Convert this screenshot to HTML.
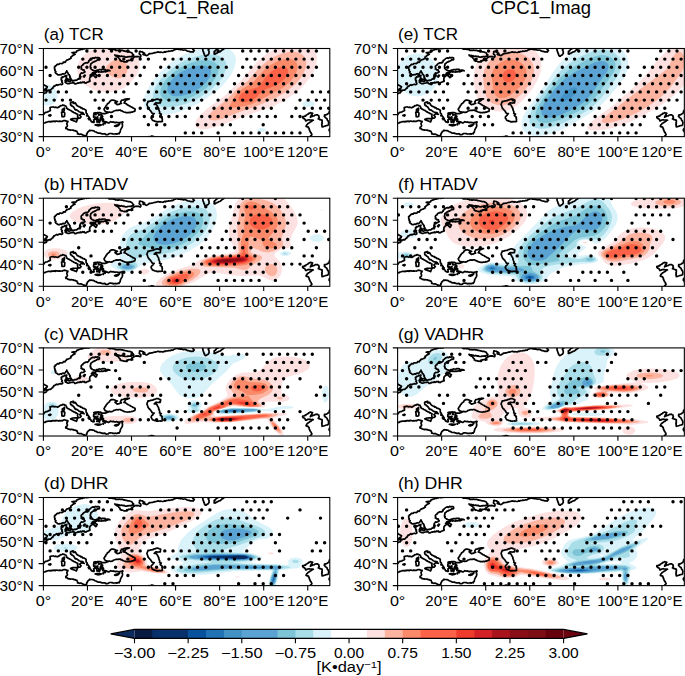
<!DOCTYPE html><html><head><meta charset="utf-8"><style>html,body{margin:0;padding:0;background:#fff;overflow:hidden}svg{display:block}text{font-family:"Liberation Sans",sans-serif;fill:#000}</style></head><body>
<svg width="685" height="676" viewBox="0 0 685 676">
<rect width="685" height="676" fill="#fff"/>
<defs>
<clipPath id="pc"><rect x="0" y="0" width="286.39" height="88.12"/></clipPath>
<g id="coast"><path d="M0.0,45.2L0.7,45.0L1.3,44.5L2.3,44.5L3.1,43.8L3.2,43.0L3.5,42.3L4.3,42.5L4.8,41.8L5.5,41.6L6.3,41.5L7.1,41.6L7.7,41.0L8.3,40.4L8.8,39.9L9.6,39.6L9.6,38.8L10.3,38.5L10.4,37.7L11.4,37.6L12.1,36.8L12.8,36.7L13.4,36.2L14.2,36.8L14.8,36.5L15.4,36.1L16.1,36.0L16.9,35.7L17.6,36.1L18.3,36.1L19.2,35.5L19.2,34.8L18.9,34.1L18.3,33.5L18.9,32.6L18.3,31.9L17.8,31.2L18.2,30.3L17.8,29.5L18.6,29.2L18.9,28.4L19.8,28.6L20.5,28.2L21.1,27.5L22.0,27.8L22.6,27.2L23.4,27.1L22.9,28.2L22.9,29.0L22.7,29.7L23.3,30.1L24.0,30.2L23.4,30.7L22.4,30.9L22.0,31.7L22.3,32.7L23.1,33.0L22.3,33.2L21.8,33.9L22.5,34.4L23.4,34.7L24.2,35.2L25.1,35.2L25.9,35.1L26.7,34.8L27.4,34.6L28.2,34.5L29.0,34.5L29.7,34.1L30.5,34.4L31.0,34.9L31.5,35.5L32.3,35.5L33.0,35.0L33.7,34.9L34.4,34.4L35.2,34.6L35.9,34.2L36.7,34.5L37.2,33.7L38.1,34.4L38.7,34.0L39.3,33.5L40.1,34.0L40.8,33.5L41.0,34.4L41.7,34.3L42.5,34.7L43.2,34.1L43.8,33.8L44.4,33.5L45.1,33.4L45.7,32.9L46.5,33.0L46.6,32.3L46.1,31.6L46.3,30.8L46.3,29.7L46.6,29.0L47.1,28.4L47.6,27.8L48.3,27.5L48.9,26.9L49.8,26.9L50.6,27.0L50.8,27.8L51.4,28.1L51.8,28.6L52.4,29.1L53.1,28.6L53.2,27.7L53.8,26.9L53.1,26.5L52.3,26.2L52.0,25.3L51.6,24.6L51.8,23.8L52.5,23.8L53.1,23.6L53.7,23.1L54.4,23.1L55.1,23.6L55.7,23.2L56.4,23.5L57.1,23.5L57.7,23.6L58.4,22.9L59.0,23.5L59.7,23.4L60.4,23.2L61.0,22.8L61.7,23.1L62.4,23.4L63.1,22.9L63.8,22.7L64.4,22.3L65.1,22.2L65.8,22.0L66.5,22.3L65.9,21.9L65.2,21.8L64.6,21.6L63.9,21.6L63.1,21.8L62.4,21.8L61.7,20.9L61.0,20.8L60.3,20.8L59.5,20.9L58.7,20.8L58.0,21.1L57.3,21.3L56.5,21.1L55.7,21.0L55.1,21.6L54.3,21.6L53.6,21.7L52.9,22.0L52.2,22.5L51.4,22.3L50.7,22.3L49.9,21.9L49.1,21.6L48.5,21.1L47.7,20.6L47.1,19.8L47.6,19.2L46.8,18.5L47.0,17.8L47.0,17.2L47.4,16.5L47.2,15.8L47.6,15.2L48.3,14.8L49.0,14.2L49.6,13.7L50.4,13.6L50.8,12.9L51.7,13.0L52.3,12.6L52.9,12.2L53.5,11.9L54.0,11.2L54.7,11.3L55.3,11.5L56.0,11.0L56.0,9.7L55.4,9.1L54.7,9.1L54.0,9.0L53.3,9.3L52.6,9.2L51.8,8.9L51.1,9.8L50.4,9.7L49.6,9.3L48.9,9.7L48.1,10.0L47.5,10.6L46.8,11.1L46.3,11.7L45.5,12.1L45.5,13.2L44.7,13.7L44.2,14.4L43.3,14.2L42.6,14.4L41.8,14.3L41.2,15.0L40.4,15.1L40.0,15.7L39.5,16.0L39.3,16.8L38.6,17.0L38.0,17.6L37.7,18.3L37.9,19.2L38.2,19.9L37.7,20.5L38.5,20.7L39.1,21.4L40.0,21.3L40.8,21.6L40.8,22.7L41.6,23.4L40.9,23.6L40.4,24.3L39.7,24.5L38.9,24.6L38.1,24.4L37.5,24.9L37.1,25.5L36.6,26.1L36.9,27.0L36.3,27.5L36.3,28.2L36.5,28.9L36.1,29.5L35.5,30.0L35.0,30.6L34.2,30.6L33.7,31.4L33.1,31.7L32.3,31.8L31.5,31.7L30.8,32.1L30.0,32.2L29.2,32.3L28.4,32.2L28.4,31.4L27.8,30.8L27.5,30.2L27.1,29.3L26.4,28.6L26.7,27.7L26.0,27.1L25.9,26.3L25.3,25.9L24.7,25.6L24.7,24.7L24.2,24.0L23.6,23.2L23.4,22.3L23.4,23.1L22.6,23.5L22.3,24.2L21.8,24.9L21.3,25.2L20.6,25.5L19.8,25.2L19.1,25.4L18.5,25.7L18.1,26.2L17.4,26.0L16.7,26.0L16.1,26.5L15.4,26.4L14.6,26.4L14.0,26.0L13.6,25.4L12.9,25.2L12.3,24.7L11.9,24.0L12.5,23.2L11.8,22.6L11.4,21.9L11.7,21.1L11.2,20.6L11.1,19.9L11.2,19.2L11.0,18.5L11.8,18.2L11.9,17.3L12.8,17.1L13.2,16.5L13.8,16.0L14.3,15.7L15.1,16.0L15.8,15.7L16.2,15.0L16.9,15.0L17.6,15.0L18.4,15.1L19.0,14.9L19.6,14.6L20.0,13.7L20.7,13.6L21.5,14.0L22.0,13.4L22.3,12.6L23.1,12.1L23.5,11.3L24.3,11.3L25.1,11.1L25.6,10.6L26.4,10.6L26.9,9.9L27.7,9.7L27.4,8.5L28.1,8.2L28.6,7.7L29.2,7.3L29.7,6.6L30.5,6.7L30.9,6.0L31.7,5.9L30.9,5.9L30.6,5.0L30.0,4.7L29.4,4.4L28.6,4.2L29.4,4.3L30.1,3.9L30.9,4.1L31.6,3.8L32.4,4.0L33.0,3.5L33.3,2.6L34.1,2.2L35.0,2.0L35.7,1.5L36.4,1.4L37.1,1.1L37.7,0.7L38.6,0.9L39.2,0.8L39.8,0.1L40.5,0.4L41.2,0.1L41.9,0.0L42.6,-0.1L43.4,0.2L44.1,-0.3L44.8,-0.1L45.6,-0.1L46.3,-0.7M63.9,-0.7L64.7,-0.4L65.2,0.4L66.1,0.7L66.8,0.7L67.4,0.5L68.1,0.6L68.7,0.8L69.4,0.7L70.1,0.9L70.8,1.1L71.6,1.1L72.1,1.8L72.9,1.8L73.6,1.7L74.3,1.9L75.0,1.9L75.7,1.6L76.4,1.8L77.1,1.8L77.8,1.9L78.6,1.9L79.4,1.9L80.0,2.4L80.8,2.4L81.5,2.6L82.2,2.8L82.9,2.9L83.6,3.0L84.2,3.3L84.9,3.4L85.6,3.5L86.4,3.4L87.0,3.7L87.7,4.0L88.4,4.3L88.9,4.8L89.2,5.7L89.8,6.1L90.3,6.6L89.9,7.2L89.4,7.6L88.5,7.6L88.1,8.2L87.4,8.0L86.6,8.3L85.9,8.1L85.2,8.3L84.4,8.2L83.7,8.6L83.0,8.6L82.2,8.6L81.5,8.5L80.8,7.9L80.0,8.2L79.3,7.9L78.6,7.9L78.0,7.5L77.3,7.9L76.6,7.9L76.0,7.5L75.4,7.2L74.6,7.5L74.0,7.0L73.4,6.9L72.6,7.0L72.0,6.8L71.4,6.4L71.8,7.1L72.5,7.5L73.1,7.9L74.0,8.4L74.9,8.8L75.3,9.4L75.6,10.0L76.1,10.5L76.7,11.0L76.7,12.1L77.4,12.1L77.9,12.8L78.7,12.6L79.3,12.8L80.0,13.0L80.7,13.4L81.5,13.2L82.2,13.4L83.0,13.3L83.7,13.4L83.3,12.3L83.9,12.2L84.6,12.4L85.2,11.7L85.9,11.9L86.6,11.7L87.2,11.6L87.9,12.2L88.6,12.1L89.2,11.9L88.9,11.0L88.1,10.6L88.6,10.0L89.3,9.8L89.9,9.4L90.3,8.8L91.0,8.7L91.6,8.2L92.3,8.1L93.0,8.3L93.6,7.9L94.2,8.3L95.0,8.0L95.6,8.4L96.3,8.5L96.9,8.8L97.4,8.0L97.4,7.0L97.1,6.3L96.3,6.0L95.8,5.3L96.0,4.6L96.3,3.8L96.1,3.1L96.8,2.9L97.5,3.1L98.3,3.3L99.0,3.4L99.4,4.2L100.2,4.0L100.6,4.8L101.3,4.8L100.9,5.4L100.1,5.6L99.6,5.9L100.2,6.2L100.9,6.3L101.6,6.2L102.2,6.8L102.8,7.1L103.5,7.0L104.1,6.5L104.8,6.2L105.4,5.8L105.7,5.1L106.5,5.2L107.2,5.2L108.0,5.0L108.7,4.9L109.4,4.8L110.1,4.6L110.8,4.2L111.7,4.3L112.4,4.0L113.1,3.9L113.9,3.6L114.6,3.3L115.2,3.7L116.0,3.7L116.7,4.0L117.5,3.6L118.2,3.8L119.0,4.0L119.7,4.0L120.4,3.7L121.1,3.2L122.0,3.6L122.6,3.0L123.4,3.1L124.1,3.0L124.7,2.9L125.4,2.6L126.1,2.8L126.8,2.7L127.5,2.5L128.1,2.2L128.9,2.4L129.6,2.2L130.1,1.6L130.8,1.4L131.5,1.1L132.2,0.9L133.3,0.4L133.9,0.6L134.6,0.7L135.2,1.0L135.9,1.0L136.6,0.9L137.3,1.3L138.1,0.9L138.8,1.4L139.5,1.5L140.2,1.7L141.0,1.5L141.7,1.5L142.4,1.7L143.1,2.0L143.7,2.5L144.4,2.7L145.1,2.8L145.8,2.9L146.5,3.1L147.1,3.4L147.8,3.3L148.5,3.5L149.2,3.1L149.8,3.5L150.1,2.7L150.9,2.2L150.4,1.6L150.2,1.0L149.3,0.7L149.2,-0.2L148.7,-0.7M159.7,-0.7L159.6,0.0L159.3,0.7L159.5,1.5L159.5,2.2L159.8,2.9L160.1,3.7L160.4,4.4L160.5,5.2L161.0,5.7L161.0,6.5L161.5,7.1L161.9,7.7L162.8,7.6L163.4,7.0L164.1,6.6L164.9,6.3L165.2,5.5L165.7,4.8L165.6,4.1L165.7,3.3L165.5,2.5L165.0,1.9L164.8,1.1L165.4,0.6L166.0,0.1L166.7,-0.3L167.4,-0.7M175.1,-0.7L174.7,-0.1L174.2,0.4L173.4,0.6L172.9,1.1L172.3,1.6L172.1,2.4L171.1,2.6L170.7,3.3L170.9,4.0L170.8,4.8L170.7,5.5L171.6,5.6L172.3,4.9L173.2,4.8L173.7,4.3L174.4,4.2L174.9,3.8L175.5,3.4L176.2,3.3L176.9,3.1L177.3,2.6L177.9,2.2L178.3,1.7L178.9,1.3L179.5,1.1L180.0,0.5L180.6,0.2L181.0,-0.4L181.7,-0.7M0.0,66.3L0.5,65.6L1.1,65.0L1.4,64.4L2.0,63.9L2.8,63.8L3.5,63.7L4.2,63.5L4.8,63.0L5.6,62.7L6.4,62.5L7.0,61.9L6.7,61.3L6.8,60.6L6.7,59.8L6.6,59.0L7.3,58.8L7.9,58.7L8.6,58.5L9.3,58.5L9.9,58.4L10.7,58.9L11.7,58.8L12.4,58.7L13.0,58.9L13.7,59.1L14.3,59.3L14.9,58.9L15.4,58.4L16.1,58.3L16.5,57.7L17.2,57.2L18.0,57.2L18.8,57.0L19.4,56.4L20.1,56.8L21.0,56.8L21.6,57.4L22.5,57.5L22.8,58.2L23.2,58.9L23.1,59.7L23.8,60.1L24.4,60.6L25.1,60.9L25.8,61.2L26.4,61.7L27.2,61.9L27.8,62.3L28.5,62.7L28.9,63.3L29.7,63.4L30.5,64.1L31.5,64.3L32.1,64.9L33.0,65.0L33.6,65.6L34.4,65.9L34.4,66.6L34.1,67.3L34.2,68.0L34.4,68.7L34.7,69.4L34.6,70.1L35.2,69.8L35.9,69.6L36.6,69.6L37.2,69.0L37.7,68.3L37.2,67.8L36.8,67.2L36.3,66.8L36.9,66.2L37.6,65.7L37.9,65.0L38.7,65.0L39.3,65.6L40.1,65.3L40.8,65.9L40.0,65.4L39.7,64.5L39.0,64.0L38.0,63.9L37.2,63.7L36.4,63.5L35.6,63.2L35.0,62.6L34.3,62.2L33.7,61.7L33.0,61.3L32.1,61.4L31.5,60.8L31.3,60.1L30.7,59.6L30.5,58.9L30.0,58.4L29.4,58.0L28.6,57.7L28.4,56.9L27.5,56.8L27.1,56.2L27.2,55.5L27.0,54.8L27.3,54.2L28.0,53.9L28.8,54.0L29.4,53.4L30.2,53.5L30.1,54.2L30.0,54.9L30.7,55.0L31.4,54.9L31.9,54.4L32.3,55.0L32.7,55.6L33.0,56.3L33.5,56.8L34.0,57.4L34.8,57.7L35.4,58.1L36.1,58.4L36.9,58.5L37.2,59.3L38.1,59.2L38.7,59.5L39.1,60.3L39.9,60.4L40.7,60.5L41.4,61.0L42.1,61.3L42.7,61.9L42.6,62.6L42.7,63.4L42.7,64.1L43.0,64.9L43.8,65.4L43.8,66.3L44.3,66.8L44.6,67.5L45.1,68.0L45.6,68.5L45.9,69.3L46.5,69.8L46.5,70.7L46.8,71.4L47.5,71.9L47.6,72.7L48.2,73.3L49.1,73.3L49.6,74.0L50.7,73.8L50.7,73.0L50.5,72.2L50.2,71.4L51.0,71.0L51.8,70.7L52.5,70.6L53.1,70.1L52.2,69.5L51.3,69.2L50.5,68.6L50.2,67.6L50.2,66.8L50.7,66.1L51.7,65.9L52.7,66.1L51.9,65.7L51.0,65.4L50.4,64.8L51.1,64.4L51.8,64.5L52.4,64.2L53.2,64.5L53.8,64.1L54.5,64.0L55.2,64.2L55.9,64.1L56.6,64.2L57.3,64.3L57.9,64.9L58.6,65.2L57.7,66.1L58.2,67.0L59.0,67.4L59.3,68.1L58.8,68.9L59.0,69.6L59.6,70.3L60.1,70.9L60.0,71.8L60.1,72.7L60.8,73.0L61.5,73.0L62.1,73.4L62.9,73.3L63.4,74.0L64.1,73.9L64.7,74.4L65.4,74.5L66.0,74.0L66.6,73.6L67.2,73.1L67.8,73.5L68.5,73.6L69.1,73.7L69.9,73.4L70.5,73.8L71.2,73.9L71.9,74.1L72.7,73.8L73.5,73.8L74.2,74.2L74.9,74.2L75.6,74.3L76.3,74.1L76.9,74.1L77.6,73.8L78.3,73.8L78.9,73.4L79.5,73.6L79.0,74.2L78.9,74.9L78.8,75.7L79.1,76.4L79.1,77.1L79.0,78.0L78.7,78.8L78.2,79.5L77.8,80.2L77.4,80.8L77.1,81.5L77.0,82.2L76.7,83.0L76.7,83.7L76.0,84.4L75.6,85.3L74.8,85.0L74.1,85.2L73.4,85.7L72.6,85.2L71.9,85.4L71.2,85.5L70.4,85.5L69.7,85.6L69.0,85.1L68.3,85.1L67.6,85.0L66.8,85.0L66.1,85.0L65.3,85.4L64.8,86.0L63.9,86.1L63.1,86.2L62.4,86.1L61.7,85.4L61.0,85.2L60.2,85.5L59.5,85.3L58.7,85.4L58.0,85.0L57.3,85.0L56.6,84.5L55.8,84.6L55.1,84.6L54.2,84.5L53.5,84.1L52.9,83.5L52.2,83.5L51.5,83.3L51.0,82.7L50.4,82.4L49.8,82.2L49.1,82.2L48.5,82.0L47.7,82.0L47.0,82.1L46.3,81.7L45.9,82.3L45.3,82.7L44.9,83.2L44.3,83.5L44.0,84.2L43.8,84.9L43.2,85.5L43.4,86.4L43.0,87.0L41.9,87.5L41.3,87.0L40.4,87.2L39.8,86.8L39.3,86.3L38.6,86.1L37.9,85.7L37.1,85.7L36.3,85.8L35.6,85.7L34.9,85.2L34.1,85.3L34.2,84.4L33.7,83.6L33.5,82.8L32.7,82.7L32.0,82.4L31.3,82.1L30.5,82.2L29.9,81.6L29.1,81.7L28.4,81.5L27.8,81.5L27.1,81.7L26.4,81.4L25.7,81.5L25.1,81.1L24.5,81.1L24.0,80.5L23.4,80.2L22.6,80.2L22.3,79.5L22.6,78.8L23.2,78.4L23.8,77.9L24.0,77.1L23.7,76.2L23.4,75.3L23.5,74.7L24.0,74.2L24.3,73.6L24.5,72.9L23.8,72.8L23.0,72.7L22.5,72.3L21.6,72.1L20.7,72.0L19.8,72.3L18.9,72.9L18.2,72.8L17.5,72.8L16.8,73.0L16.1,72.6L15.4,73.0L14.6,72.9L13.9,72.7L13.2,72.7L12.5,72.5L11.9,73.1L11.2,72.7L10.6,73.1L9.9,72.7L9.2,72.8L8.6,73.2L7.9,72.9L7.3,73.4L6.6,73.1L5.9,73.2L5.1,73.2L4.4,73.3L3.7,73.5L3.0,73.8L2.2,73.8L1.6,74.5L0.6,74.5L0.0,75.1M63.9,63.7L64.5,64.3L61.7,65.2L59.5,65.2L58.6,65.2M63.9,63.7L64.6,63.7L65.4,63.8L66.1,63.5L66.8,63.8L67.6,63.9L68.3,63.7L69.0,63.6L69.6,63.2L70.1,62.7L70.7,62.5L71.4,62.3L72.0,62.0L72.7,61.9L73.4,61.7L74.2,61.9L74.9,61.9L75.6,61.6L76.4,61.6L77.1,61.7L77.7,62.3L78.6,62.4L79.2,62.9L80.0,63.2L80.7,63.5L81.4,63.7L82.2,63.9L82.9,64.1L83.7,64.1L84.5,64.2L85.2,64.1L85.9,63.8L86.7,64.1L87.5,63.9L88.1,63.5L88.8,63.6L89.5,63.4L90.1,63.0L90.7,62.8L91.4,62.8L91.5,62.0L91.8,61.2L91.6,60.4L90.9,60.0L90.3,59.6L89.4,59.5L88.9,58.8L88.1,58.6L87.5,58.2L86.8,58.0L86.4,57.3L85.6,57.1L84.9,56.9L84.4,56.4L83.6,56.1L83.0,55.3L82.2,55.1L81.5,54.6L80.6,54.4L81.2,54.0L81.3,53.2L81.9,52.8L82.1,52.1L82.6,51.6L83.2,51.2L84.0,51.2L84.6,51.0L85.2,50.5L85.9,50.4L85.2,50.5L84.4,50.3L83.7,50.4L83.0,50.7L82.3,50.7L81.5,50.8L80.8,50.9L80.2,51.4L79.5,51.6L78.7,51.7L78.0,51.8L77.7,52.7L77.1,53.5L77.4,54.3L78.0,54.9L77.3,55.0L76.6,55.3L76.0,55.7L75.3,55.9L74.5,55.9L73.8,56.2L73.3,55.7L72.7,55.3L72.2,54.9L71.6,54.4L72.1,53.9L72.9,53.9L73.4,53.3L74.0,53.1L73.3,52.9L72.6,52.7L71.9,52.4L71.2,52.1L70.5,51.8L69.8,51.7L69.1,51.7L68.3,51.7L67.6,51.8L67.3,52.4L66.6,52.7L66.2,53.3L66.0,54.0L65.4,54.4L64.9,54.8L64.3,55.2L63.8,55.7L63.5,56.4L63.0,56.8L62.6,57.3L62.4,58.1L62.0,58.6L61.5,59.0L61.2,59.9L60.6,60.6L60.9,61.3L61.2,62.0L61.7,62.6L62.3,63.1L63.2,63.3L63.9,63.7M104.6,52.9L104.5,53.6L104.2,54.2L103.9,54.8L103.7,55.5L103.5,56.2L103.8,56.8L104.1,57.5L104.3,58.1L104.6,58.8L104.6,59.5L105.2,60.0L105.5,60.7L106.2,61.0L106.5,61.7L107.1,62.1L107.5,62.7L107.8,63.3L108.3,63.8L108.5,64.5L109.0,65.0L109.9,65.2L110.8,65.2L110.3,65.6L109.7,66.1L109.5,66.9L108.9,67.3L108.4,67.7L107.9,68.3L107.8,68.9L107.7,69.6L108.3,70.2L108.6,70.9L109.0,71.6L109.7,72.1L110.6,72.2L111.3,72.7L111.9,72.8L112.6,72.8L113.2,73.3L113.9,73.2L114.6,73.4L115.3,73.1L116.0,73.1L116.7,73.0L117.5,73.3L118.2,73.1L119.0,72.9L118.7,71.8L118.9,71.2L118.9,70.5L118.5,69.8L118.7,69.2L118.7,68.5L118.0,68.2L117.5,67.6L116.8,67.2L117.2,66.3L117.9,65.6L117.0,65.3L116.1,65.0L116.3,64.2L116.3,63.4L115.9,62.6L115.7,61.7L115.2,61.0L115.4,60.2L115.0,59.5L114.6,58.8L114.2,58.2L113.9,57.4L113.5,56.8L113.0,56.2L112.3,55.9L111.6,55.9L110.8,56.0L111.4,55.5L111.8,54.9L112.4,54.4L113.1,54.3L113.8,54.5L114.6,54.6L115.3,54.5L116.0,54.3L116.8,54.4L117.0,53.7L117.1,53.0L117.2,52.3L117.2,51.6L116.4,51.5L115.7,51.2L115.0,50.8L114.2,50.7L113.5,50.7L112.8,50.8L112.2,51.1L111.6,51.4L110.9,51.4L110.3,51.6L109.7,52.1L109.0,52.2L108.4,52.3L107.7,52.4L107.0,52.5L106.4,52.9L105.7,52.9L104.6,52.9M18.1,63.9L20.3,63.4L21.4,64.5L21.1,67.9L19.8,68.3L18.5,68.1L18.5,66.1L18.1,63.9M18.9,62.3L20.3,63.0L20.9,61.7L20.9,59.5L20.5,60.1L18.9,61.0L18.9,62.3M27.3,70.9L29.5,70.1L34.4,69.8L33.3,72.7L33.0,73.4L31.5,72.7L27.8,71.4L27.3,70.9M51.8,76.4L54.0,76.2L57.9,76.4L56.8,76.9L54.4,77.3L51.8,76.4M71.2,77.5L72.5,76.9L74.9,76.4L76.2,75.6L74.7,77.3L72.7,78.0L71.2,77.5M5.3,67.0L6.8,66.3L7.5,66.8L6.6,67.6L5.3,67.0M105.5,88.1L105.7,89.2L106.8,88.3L107.9,87.7L110.1,87.9L111.5,89.7M71.6,88.1L71.8,89.0M266.6,88.1L267.1,87.7L267.5,87.1L268.1,86.7L268.5,86.1L268.3,85.5L267.8,84.9L267.7,84.2L267.0,83.7L266.8,82.9L266.3,82.4L266.3,81.7L265.8,81.2L265.8,80.5L265.7,79.8L265.0,79.3L265.0,78.6L264.2,78.3L263.3,78.2L262.6,77.8L263.1,77.1L263.3,76.3L263.9,75.8L264.5,75.2L265.0,74.7L265.9,74.3L266.6,73.6L267.3,73.5L267.9,72.9L268.5,72.5L269.1,72.0L269.9,71.8L269.2,71.5L268.4,71.7L267.7,71.6L267.0,71.5L266.3,71.5L265.7,71.2L265.0,71.4L264.3,71.5L263.6,71.8L262.9,72.3L262.2,72.3L261.9,71.3L261.3,70.5L260.7,70.1L260.0,69.9L259.5,69.4L259.2,68.8L259.3,68.1L260.0,68.1L260.8,68.0L261.4,67.5L262.2,67.6L262.6,66.8L263.5,66.3L264.1,65.9L264.8,65.7L265.2,64.9L266.0,64.8L266.6,64.3L267.3,64.2L267.9,64.5L268.6,64.5L269.2,64.8L268.7,65.3L268.6,66.1L267.9,66.5L267.7,67.2L267.3,67.9L267.0,68.7L267.8,68.1L268.8,67.9L269.4,67.4L270.2,67.5L270.8,67.2L271.4,66.8L272.1,66.5L273.0,66.4L273.8,66.3L274.6,66.8L275.4,67.2L275.4,68.1L275.8,69.0L275.3,69.7L274.9,70.5L275.8,70.7L276.5,71.2L277.3,71.1L277.9,71.7L278.7,71.6L278.7,72.3L278.8,73.1L278.7,73.8L278.4,74.4L278.8,75.1L278.3,75.8L278.6,76.4L278.5,77.1L278.6,77.8L278.7,78.4L279.4,78.1L280.2,78.1L280.9,77.8L281.6,77.6L282.3,77.3L283.1,77.1L283.8,77.0L284.4,76.9L285.1,76.0L285.1,75.3L285.2,74.5L285.3,73.8L284.9,73.1L284.8,72.4L284.1,71.8L283.8,71.2L283.6,70.4L283.1,69.8L282.4,69.4L281.9,69.0L281.4,68.3L280.9,67.9L281.2,67.2L281.1,66.5L281.8,66.4L282.5,66.4L283.1,66.1L283.9,65.8L284.4,65.2L285.2,64.9L285.7,64.3L285.9,63.6L285.9,62.8L286.3,62.2L286.9,61.8L287.0,61.1L287.5,60.6M0.0,35.9L0.7,36.6L2.6,37.6L3.9,38.3L3.5,39.4L2.2,40.1L2.0,40.8L1.1,40.9L2.2,41.0L3.1,41.1L3.1,41.5L2.1,42.1L0.7,42.4L0.0,42.3M39.9,28.0L41.2,26.7L41.9,26.9L40.8,28.6L39.9,28.0M36.1,30.4L37.2,28.0L37.5,28.2L36.6,30.4L36.1,30.4M24.2,32.2L24.7,31.1L26.4,30.6L27.8,31.5L26.9,32.6L25.8,33.0L24.2,32.2M21.6,32.4L22.9,31.7L23.8,32.4L22.9,33.0L21.6,32.4M48.0,25.8L49.6,25.1L51.3,25.3L49.1,26.7L48.0,25.8M48.9,24.5L50.4,24.2L50.7,24.7L49.3,24.9L48.9,24.5M50.2,68.5L51.6,68.5L54.2,70.3L53.5,70.5L51.1,69.4L50.2,68.5M57.5,67.6L58.6,67.4L58.4,68.3L57.5,67.6M61.2,74.5L62.1,74.0L61.7,75.1L61.2,74.5M56.6,72.6L56.5,72.3L56.1,72.1L55.7,72.3L55.5,72.6L55.7,72.9L56.1,73.0L56.5,72.9L56.6,72.6M55.7,72.6L55.6,72.4L55.4,72.3L55.2,72.4L55.1,72.6L55.2,72.8L55.4,72.9L55.6,72.8L55.7,72.6M55.3,70.8L55.1,70.7L54.7,70.6L54.3,70.7L54.2,70.8L54.3,71.0L54.7,71.1L55.1,71.0L55.3,70.8M55.7,71.4L55.6,71.2L55.4,71.2L55.2,71.2L55.1,71.4L55.2,71.5L55.4,71.6L55.6,71.5L55.7,71.4M56.2,74.0L56.1,73.9L56.0,73.8L55.8,73.9L55.7,74.0L55.8,74.2L56.0,74.2L56.1,74.2L56.2,74.0M54.2,73.4L54.1,73.2L53.8,73.1L53.4,73.2L53.3,73.4L53.4,73.5L53.8,73.6L54.1,73.5L54.2,73.4M60.3,73.0L60.1,72.9L59.7,72.9L59.3,72.9L59.2,73.0L59.3,73.2L59.7,73.2L60.1,73.2L60.3,73.0M60.0,75.8L60.0,75.4L59.8,75.2L59.7,75.4L59.6,75.8L59.7,76.2L59.8,76.3L60.0,76.2L60.0,75.8M59.5,71.1L59.3,71.0L58.9,70.9L58.5,71.0L58.4,71.1L58.5,71.3L58.9,71.3L59.3,71.3L59.5,71.1M57.6,69.6L57.5,69.2L57.3,69.1L57.0,69.2L56.9,69.6L57.0,70.0L57.3,70.2L57.5,70.0L57.6,69.6M56.1,66.3L55.9,66.1L55.5,66.0L55.1,66.1L55.0,66.3L55.1,66.6L55.5,66.6L55.9,66.6L56.1,66.3M54.7,64.5L54.7,64.4L54.4,64.3L54.2,64.4L54.1,64.5L54.2,64.7L54.4,64.8L54.7,64.7L54.7,64.5M44.2,67.0L44.0,66.6L43.7,66.4L43.4,66.6L43.3,67.0L43.4,67.4L43.7,67.5L44.0,67.4L44.2,67.0M45.7,70.1L45.6,69.7L45.3,69.6L45.0,69.7L44.8,70.1L45.0,70.4L45.3,70.5L45.6,70.4L45.7,70.1M46.1,71.0L46.0,70.8L45.8,70.7L45.6,70.8L45.6,71.0L45.6,71.2L45.8,71.2L46.0,71.2L46.1,71.0M54.4,68.6L54.3,68.5L54.1,68.4L53.8,68.5L53.8,68.6L53.8,68.8L54.1,68.8L54.3,68.8L54.4,68.6M58.0,71.4L57.9,71.3L57.6,71.2L57.3,71.3L57.2,71.4L57.3,71.5L57.6,71.5L57.9,71.5L58.0,71.4M53.5,71.4L53.5,71.2L53.3,71.2L53.2,71.2L53.1,71.4L53.2,71.5L53.3,71.6L53.5,71.5L53.5,71.4M287.5,79.5L285.9,80.6L285.7,82.0L286.8,83.3L287.5,85.0" fill="none" stroke="#000" stroke-width="1.7" stroke-linejoin="round" stroke-linecap="round"/></g>

</defs>
<text x="186.59" y="13.70" font-size="18.12" text-anchor="middle" textLength="94.19" lengthAdjust="spacingAndGlyphs">CPC1_Real</text>
<text x="540.80" y="13.70" font-size="18.12" text-anchor="middle" textLength="100.61" lengthAdjust="spacingAndGlyphs">CPC1_Imag</text>
<g transform="translate(43.4,48.5)">
<g clip-path="url(#pc)">
<path d="M156.3,80.4L160.8,80.7L166.3,80.1L179.5,76.3L199.4,68.3L230.2,57.6L239.0,53.2L249.4,46.3L255.3,41.9L260.9,36.3L266.3,29.7L270.2,23.1L272.7,16.5L273.6,11.0L273.0,5.5L271.0,1.2L267.7,-2.1L263.0,-4.4L244.5,-4.4L233.5,-0.6L223.6,5.0L213.7,13.3L198.9,30.8L182.8,46.0L163.4,60.6L156.1,67.2L152.8,71.6L151.5,76.0L152.0,77.7L153.1,79.0ZM55.7,43.0L63.9,43.9L72.7,42.7L80.4,39.5L87.4,34.1L93.3,26.4L95.3,22.0L96.1,18.7L96.2,15.4L95.3,12.1L91.6,6.6L87.0,3.0L80.4,-0.2L72.7,-2.0L65.0,-2.4L57.3,-1.5L50.7,0.4L44.8,3.3L39.7,7.4L36.1,12.1L34.0,17.6L33.9,23.1L35.2,27.7L38.6,33.0L43.0,37.2L49.0,40.8Z" fill="#fde0e0" fill-rule="evenodd"/><path d="M167.2,71.6L171.8,71.9L178.4,70.5L196.1,63.6L211.5,58.5L232.4,49.3L242.3,43.7L252.5,35.2L256.3,30.8L259.9,25.3L262.2,19.8L262.9,15.4L262.7,12.1L261.1,8.3L258.9,6.0L255.5,4.3L251.1,3.3L246.7,3.3L241.2,4.2L235.7,6.0L230.2,8.5L224.7,11.8L215.9,19.2L204.7,31.9L193.9,40.3L182.8,51.5L168.9,62.8L166.2,66.1L165.3,68.3L165.7,70.5ZM69.8,28.6L73.8,29.7L77.1,29.4L80.4,27.9L82.8,25.3L84.1,22.0L84.1,17.6L82.6,14.3L80.4,12.1L77.1,10.7L72.3,11.0L67.9,13.2L63.2,17.6L62.0,20.9L62.7,23.1L66.0,26.4Z" fill="#fcb4a0" fill-rule="evenodd"/><path d="M186.2,58.4L188.4,59.3L192.8,59.0L201.6,57.6L208.2,55.8L239.0,39.7L246.7,33.3L251.9,26.4L254.2,19.8L254.1,16.5L253.2,14.3L251.1,12.2L248.9,11.1L245.6,10.4L242.3,10.5L234.6,12.5L227.1,16.5L220.3,22.0L209.4,34.1L198.3,40.8L194.3,44.1L190.2,49.6L186.8,56.2Z" fill="#fb8a6a" fill-rule="evenodd"/><path d="M196.6,52.9L198.3,53.6L201.6,53.9L208.2,52.1L213.4,48.5L219.2,42.0L231.3,37.5L236.8,34.3L240.8,30.8L243.8,26.4L244.8,23.1L244.4,20.9L243.7,19.8L241.2,18.5L237.9,18.4L233.5,19.6L229.1,22.1L223.1,27.5L215.9,37.9L213.7,39.0L202.9,41.9L197.8,45.2L196.1,47.4L195.4,49.6L195.6,51.8Z" fill="#fb6248" fill-rule="evenodd"/><path d="M216.9,83.7L220.3,83.5L222.1,82.6L222.6,81.5L221.9,80.4L219.2,79.5L217.0,79.5L214.5,80.4L213.8,81.5L214.3,82.6ZM115.7,66.1L121.2,66.2L127.8,65.5L135.5,63.6L142.1,61.2L157.5,53.4L172.7,43.0L178.7,37.5L183.5,31.9L187.4,26.4L190.3,20.9L192.1,15.4L192.6,11.0L192.0,7.7L190.2,4.4L186.1,1.1L179.5,-1.1L171.8,-1.7L161.9,-0.8L152.0,1.6L141.0,5.9L132.2,10.7L124.5,16.3L115.7,24.7L108.1,34.1L102.9,43.0L100.3,50.7L100.0,54.0L100.6,57.3L103.5,61.6L109.0,64.8ZM263.7,58.4L266.6,58.3L269.7,57.3L270.9,56.2L271.2,55.1L270.8,54.0L268.8,52.7L265.5,52.1L262.2,52.6L259.5,54.0L258.9,55.1L259.0,56.2L260.0,57.2ZM-0.3,56.2L3.3,57.1L7.7,56.5L11.0,54.4L13.5,50.7L14.1,47.4L13.2,43.0L11.0,39.7L6.6,36.8L4.4,36.3L1.1,36.6L-2.2,38.1L-4.4,40.2L-4.4,52.8Z" fill="#daf2fa" fill-rule="evenodd"/><path d="M120.6,58.4L125.6,58.7L131.1,58.3L142.1,55.6L154.2,50.2L166.3,42.3L174.9,34.1L178.3,29.7L180.8,25.3L182.5,20.9L182.9,17.6L182.6,14.3L180.9,11.0L177.3,8.2L171.8,6.3L165.2,5.9L158.6,6.5L150.9,8.4L142.1,11.7L134.4,15.8L127.8,20.4L121.0,26.4L115.4,33.0L111.5,39.7L109.7,45.2L109.6,49.6L111.5,54.0L115.7,57.0Z" fill="#a9dde8" fill-rule="evenodd"/><path d="M126.5,52.9L134.4,52.7L144.3,50.2L154.2,45.6L162.9,39.7L169.6,33.0L173.8,26.4L174.9,23.1L175.1,19.8L174.6,17.6L173.2,15.4L170.3,13.2L166.3,11.9L160.8,11.5L154.2,12.4L147.6,14.2L141.0,17.0L135.5,20.1L130.0,24.0L124.9,28.6L121.2,33.0L118.1,38.6L116.9,43.0L117.1,46.3L118.9,49.6L122.2,51.8Z" fill="#7cc4d6" fill-rule="evenodd"/><path d="M129.5,47.4L135.5,47.8L143.2,46.2L150.8,43.0L157.5,38.7L162.6,34.1L166.5,28.6L167.8,24.2L167.6,22.0L166.5,19.8L164.1,18.0L160.8,17.0L153.1,17.2L144.3,19.9L134.7,25.3L127.8,31.9L125.6,35.2L124.2,38.6L124.0,41.9L124.7,44.1L126.7,46.1Z" fill="#5ba3d3" fill-rule="evenodd"/><path d="M43.5,2.5h0M51.7,2.5h0M59.9,2.5h0M68.1,2.5h0M76.3,2.5h0M84.5,2.5h0M92.7,2.5h0M174.7,2.5h0M199.3,2.5h0M207.5,2.5h0M215.7,2.5h0M223.8,2.5h0M232.0,2.5h0M240.2,2.5h0M248.4,2.5h0M256.6,2.5h0M264.8,2.5h0M273.0,2.5h0M39.4,10.6h0M47.6,10.6h0M55.8,10.6h0M64.0,10.6h0M72.2,10.6h0M80.4,10.6h0M88.6,10.6h0M96.8,10.6h0M105.0,10.6h0M121.4,10.6h0M129.6,10.6h0M137.8,10.6h0M146.0,10.6h0M154.2,10.6h0M162.4,10.6h0M170.6,10.6h0M178.8,10.6h0M203.4,10.6h0M211.6,10.6h0M219.8,10.6h0M227.9,10.6h0M236.1,10.6h0M244.3,10.6h0M252.5,10.6h0M260.7,10.6h0M268.9,10.6h0M2.6,18.8h0M35.3,18.8h0M43.5,18.8h0M51.7,18.8h0M59.9,18.8h0M68.1,18.8h0M76.3,18.8h0M84.5,18.8h0M92.7,18.8h0M100.9,18.8h0M117.3,18.8h0M125.5,18.8h0M133.7,18.8h0M141.9,18.8h0M150.1,18.8h0M158.3,18.8h0M166.5,18.8h0M174.7,18.8h0M182.9,18.8h0M199.3,18.8h0M207.5,18.8h0M215.7,18.8h0M223.8,18.8h0M232.0,18.8h0M240.2,18.8h0M248.4,18.8h0M256.6,18.8h0M264.8,18.8h0M273.0,18.8h0M6.7,27.0h0M47.6,27.0h0M55.8,27.0h0M64.0,27.0h0M72.2,27.0h0M80.4,27.0h0M88.6,27.0h0M96.8,27.0h0M113.2,27.0h0M121.4,27.0h0M129.6,27.0h0M137.8,27.0h0M146.0,27.0h0M154.2,27.0h0M162.4,27.0h0M170.6,27.0h0M178.8,27.0h0M195.2,27.0h0M203.4,27.0h0M211.6,27.0h0M219.8,27.0h0M227.9,27.0h0M236.1,27.0h0M244.3,27.0h0M252.5,27.0h0M260.7,27.0h0M268.9,27.0h0M51.7,35.2h0M59.9,35.2h0M68.1,35.2h0M76.3,35.2h0M84.5,35.2h0M92.7,35.2h0M109.1,35.2h0M117.3,35.2h0M125.5,35.2h0M133.7,35.2h0M141.9,35.2h0M150.1,35.2h0M158.3,35.2h0M166.5,35.2h0M174.7,35.2h0M191.1,35.2h0M199.3,35.2h0M207.5,35.2h0M215.7,35.2h0M223.8,35.2h0M232.0,35.2h0M240.2,35.2h0M248.4,35.2h0M256.6,35.2h0M6.7,43.4h0M14.9,43.4h0M23.0,43.4h0M47.6,43.4h0M55.8,43.4h0M64.0,43.4h0M72.2,43.4h0M80.4,43.4h0M105.0,43.4h0M113.2,43.4h0M121.4,43.4h0M129.6,43.4h0M137.8,43.4h0M146.0,43.4h0M154.2,43.4h0M162.4,43.4h0M170.6,43.4h0M187.0,43.4h0M195.2,43.4h0M203.4,43.4h0M211.6,43.4h0M219.8,43.4h0M227.9,43.4h0M236.1,43.4h0M244.3,43.4h0M252.5,43.4h0M268.9,43.4h0M277.1,43.4h0M285.3,43.4h0M2.6,51.6h0M10.8,51.6h0M19.0,51.6h0M27.1,51.6h0M51.7,51.6h0M59.9,51.6h0M100.9,51.6h0M109.1,51.6h0M117.3,51.6h0M125.5,51.6h0M133.7,51.6h0M141.9,51.6h0M150.1,51.6h0M158.3,51.6h0M174.7,51.6h0M182.9,51.6h0M191.1,51.6h0M199.3,51.6h0M207.5,51.6h0M215.7,51.6h0M223.8,51.6h0M232.0,51.6h0M240.2,51.6h0M256.6,51.6h0M264.8,51.6h0M273.0,51.6h0M281.2,51.6h0M55.8,59.8h0M64.0,59.8h0M96.8,59.8h0M105.0,59.8h0M113.2,59.8h0M121.4,59.8h0M129.6,59.8h0M137.8,59.8h0M146.0,59.8h0M154.2,59.8h0M170.6,59.8h0M178.8,59.8h0M187.0,59.8h0M195.2,59.8h0M203.4,59.8h0M211.6,59.8h0M219.8,59.8h0M227.9,59.8h0M252.5,59.8h0M260.7,59.8h0M268.9,59.8h0M277.1,59.8h0M285.3,59.8h0M68.1,68.0h0M100.9,68.0h0M109.1,68.0h0M117.3,68.0h0M125.5,68.0h0M133.7,68.0h0M141.9,68.0h0M158.3,68.0h0M166.5,68.0h0M174.7,68.0h0M182.9,68.0h0M191.1,68.0h0M199.3,68.0h0M207.5,68.0h0M215.7,68.0h0M223.8,68.0h0M232.0,68.0h0M248.4,68.0h0M256.6,68.0h0M105.0,76.2h0M113.2,76.2h0M121.4,76.2h0M154.2,76.2h0M162.4,76.2h0M170.6,76.2h0M178.8,76.2h0M187.0,76.2h0M219.8,76.2h0M141.9,84.4h0M150.1,84.4h0M158.3,84.4h0M174.7,84.4h0M191.1,84.4h0M199.3,84.4h0M207.5,84.4h0M215.7,84.4h0M223.8,84.4h0M232.0,84.4h0M240.2,84.4h0M248.4,84.4h0M256.6,84.4h0" stroke="#000" stroke-width="3.44" stroke-linecap="round"/>
<use href="#coast"/>
</g>
<rect x="0" y="0" width="286.39" height="88.12" fill="none" stroke="#000" stroke-width="1.1"/>
<path d="M0.00,88.12v4.8M44.06,88.12v4.8M88.12,88.12v4.8M132.18,88.12v4.8M176.24,88.12v4.8M220.30,88.12v4.8M264.36,88.12v4.8M0,88.12h-4.8M0,66.09h-4.8M0,44.06h-4.8M0,22.03h-4.8M0,0.00h-4.8" stroke="#000" stroke-width="1.1" fill="none"/>
<text x="0.00" y="108.52" font-size="13.92" text-anchor="middle" textLength="15.45" lengthAdjust="spacingAndGlyphs">0°</text>
<text x="44.06" y="108.52" font-size="13.92" text-anchor="middle" textLength="32.70" lengthAdjust="spacingAndGlyphs">20°E</text>
<text x="88.12" y="108.52" font-size="13.92" text-anchor="middle" textLength="32.70" lengthAdjust="spacingAndGlyphs">40°E</text>
<text x="132.18" y="108.52" font-size="13.92" text-anchor="middle" textLength="32.70" lengthAdjust="spacingAndGlyphs">60°E</text>
<text x="176.24" y="108.52" font-size="13.92" text-anchor="middle" textLength="32.70" lengthAdjust="spacingAndGlyphs">80°E</text>
<text x="220.30" y="108.52" font-size="13.92" text-anchor="middle" textLength="41.35" lengthAdjust="spacingAndGlyphs">100°E</text>
<text x="264.36" y="108.52" font-size="13.92" text-anchor="middle" textLength="41.35" lengthAdjust="spacingAndGlyphs">120°E</text>
<text x="-9.60" y="93.52" font-size="13.92" text-anchor="end" textLength="34.28" lengthAdjust="spacingAndGlyphs">30°N</text>
<text x="-9.60" y="71.49" font-size="13.92" text-anchor="end" textLength="34.28" lengthAdjust="spacingAndGlyphs">40°N</text>
<text x="-9.60" y="49.46" font-size="13.92" text-anchor="end" textLength="34.28" lengthAdjust="spacingAndGlyphs">50°N</text>
<text x="-9.60" y="27.43" font-size="13.92" text-anchor="end" textLength="34.28" lengthAdjust="spacingAndGlyphs">60°N</text>
<text x="-9.60" y="5.40" font-size="13.92" text-anchor="end" textLength="34.28" lengthAdjust="spacingAndGlyphs">70°N</text>
<text x="0.40" y="-8.40" font-size="16.70" text-anchor="start" textLength="59.96" lengthAdjust="spacingAndGlyphs">(a) TCR</text>
</g>
<g transform="translate(43.4,198.2)">
<g clip-path="url(#pc)">
<path d="M115.6,90.3L119.0,91.1L124.5,91.3L136.6,89.5L149.8,84.1L165.2,75.4L169.6,74.2L172.9,74.3L186.2,76.7L197.2,77.7L215.9,77.2L219.2,78.3L224.7,81.4L228.0,82.4L231.3,82.0L233.5,80.9L235.7,79.0L237.7,76.0L238.5,72.7L238.5,68.3L237.0,63.9L231.4,58.4L230.8,56.2L232.5,54.0L234.3,52.9L237.9,51.4L245.1,49.6L246.8,48.5L247.3,47.4L247.2,41.9L247.8,38.6L253.5,27.5L254.4,24.2L253.4,18.7L249.5,11.0L246.4,6.6L242.3,2.1L237.9,-1.5L233.2,-4.4L202.9,-4.4L200.5,-3.1L195.0,1.0L191.9,5.5L186.0,27.5L185.4,33.0L185.7,38.6L187.1,43.0L191.0,50.7L191.3,52.9L190.6,53.9L186.4,55.1L172.9,56.9L163.0,58.9L156.1,61.7L148.7,66.9L134.4,71.1L125.6,74.7L117.7,79.3L113.4,83.7L112.5,85.9L112.8,88.1ZM97.4,76.0L100.2,76.3L103.5,75.7L105.7,74.3L106.1,72.7L105.1,71.6L102.4,70.6L98.0,71.2L95.4,72.7L94.6,73.8L95.1,74.9ZM4.6,60.6L7.7,61.5L11.0,61.6L16.9,60.6L23.2,57.3L24.0,56.2L24.1,54.0L21.4,51.8L15.4,50.1L9.9,50.0L4.4,51.1L1.1,53.3L0.0,56.2L1.2,58.4ZM49.2,26.4L61.7,25.7L66.1,24.7L70.5,23.0L76.8,18.7L81.1,14.3L82.6,11.0L82.0,8.8L78.2,6.2L71.6,4.7L62.8,4.5L52.9,5.4L43.0,7.4L35.4,9.9L29.5,13.2L26.7,16.5L26.5,18.7L26.9,19.8L28.6,21.7L31.0,23.1L38.6,25.4Z" fill="#fde0e0" fill-rule="evenodd"/><path d="M122.1,88.1L131.1,88.7L136.6,87.7L139.9,86.4L149.1,81.5L153.8,78.2L156.7,74.9L157.0,72.7L156.3,71.6L154.2,70.6L147.6,70.5L138.8,72.0L128.9,75.5L122.3,79.3L119.1,82.6L118.4,84.8L118.7,85.9L119.6,87.0ZM225.5,77.1L228.0,78.1L230.2,77.8L232.4,76.4L233.4,74.9L234.0,72.7L233.5,69.6L232.4,67.9L230.2,66.3L228.0,65.8L225.8,66.1L223.5,67.2L221.6,69.4L221.7,72.7L223.1,74.9ZM198.8,71.6L201.6,71.7L203.8,71.0L208.4,67.2L216.4,62.8L218.5,60.6L218.4,58.4L217.0,57.2L209.3,55.2L207.6,54.0L207.6,51.8L209.3,49.9L211.5,50.2L219.2,53.6L224.7,54.3L229.1,53.3L235.5,50.7L237.8,49.6L239.9,47.4L239.7,45.2L238.2,39.7L242.4,27.5L242.6,24.2L241.7,19.8L239.0,14.3L234.6,8.9L230.2,5.4L224.7,2.7L215.9,0.5L208.2,0.2L201.6,1.9L199.3,3.3L197.3,5.5L196.0,8.8L195.9,15.4L193.7,26.4L195.2,51.8L195.0,54.0L194.2,55.1L191.1,56.2L174.0,57.9L165.2,59.6L159.8,61.7L158.2,62.8L156.7,65.0L157.8,67.2L161.9,68.6L191.7,69.6ZM8.4,59.5L12.1,59.5L14.9,58.4L16.1,57.3L16.1,55.1L14.3,53.6L12.1,53.0L8.8,53.0L6.0,54.0L4.8,55.1L4.6,57.3L5.7,58.4Z" fill="#fcb4a0" fill-rule="evenodd"/><path d="M126.3,87.0L132.2,87.4L137.9,85.9L148.3,79.3L150.4,77.1L150.9,74.9L148.7,73.4L143.2,73.2L136.6,74.5L127.8,77.8L123.9,80.4L122.2,83.7L123.6,85.9ZM164.7,67.2L176.2,68.0L199.4,67.4L202.7,66.8L210.8,62.8L212.9,60.6L212.7,59.5L206.1,56.2L204.4,54.0L205.5,40.8L206.0,39.1L207.1,38.3L210.4,38.8L218.1,41.9L218.8,43.0L219.8,47.4L222.5,49.6L228.0,50.4L232.4,48.9L233.5,47.4L232.5,45.2L225.1,40.8L225.0,39.7L231.3,32.2L234.2,27.5L234.9,23.1L233.2,18.7L228.0,13.7L213.7,4.6L208.2,3.4L204.9,3.8L202.7,4.8L200.7,6.6L200.0,8.8L202.3,16.5L200.3,24.2L200.8,33.0L197.6,43.0L197.3,52.9L196.6,55.1L195.2,56.2L192.8,56.9L172.9,58.8L164.1,61.0L160.8,62.8L160.0,63.9L160.0,65.0L161.9,66.5ZM8.2,57.3L11.0,57.7L12.1,57.3L12.6,56.2L11.2,55.1L9.2,55.1L7.7,56.2Z" fill="#fb8a6a" fill-rule="evenodd"/><path d="M127.3,85.9L132.2,86.5L136.6,85.4L139.3,83.7L144.3,79.3L145.2,78.2L145.4,76.8L144.8,76.0L143.2,75.6L139.9,75.7L128.9,78.7L126.1,80.4L124.7,82.6L125.4,84.8ZM164.9,66.1L169.6,66.9L178.4,67.1L200.5,65.9L207.1,63.1L209.0,61.7L209.5,60.6L209.0,59.5L203.7,56.2L201.7,54.0L201.8,47.4L201.6,46.6L200.5,46.0L199.6,48.5L199.7,54.0L197.5,56.2L193.9,57.5L176.2,59.0L167.4,60.7L164.1,62.0L162.2,63.9L162.7,65.0ZM213.5,30.8L219.2,31.2L222.5,30.4L225.8,28.8L228.9,25.3L229.3,23.1L228.5,20.9L225.8,18.4L220.3,16.2L214.8,15.7L210.4,17.1L206.8,20.9L206.1,24.2L206.9,26.4L208.2,28.0L210.4,29.6ZM206.6,11.0L208.2,11.5L210.3,11.0L211.0,9.9L210.9,8.8L209.3,7.3L206.0,7.3L204.8,8.8L205.2,9.9Z" fill="#fb6248" fill-rule="evenodd"/><path d="M130.9,84.8L133.3,84.7L135.7,83.7L136.7,82.6L137.0,81.5L136.6,80.6L133.3,79.7L131.1,80.1L128.9,81.3L128.1,82.6L128.5,83.7ZM168.0,65.0L172.9,65.8L179.5,65.9L198.3,64.5L201.5,63.9L203.8,62.8L205.0,61.7L205.3,60.6L203.1,58.4L200.5,57.6L193.9,58.8L176.2,60.1L169.6,61.4L166.8,62.8L166.4,63.9Z" fill="#ef3b2c" fill-rule="evenodd"/><path d="M131.1,83.7L133.3,83.6L134.7,82.6L134.5,81.5L133.3,81.1L131.0,81.5L130.0,82.6ZM171.6,65.0L182.8,65.3L198.3,63.8L202.0,62.8L203.4,61.7L203.7,60.6L201.6,58.8L199.4,58.5L176.5,60.6L171.0,61.7L168.7,62.8L168.5,63.9Z" fill="#d42027" fill-rule="evenodd"/><path d="M171.1,63.9L178.4,64.8L189.5,64.2L199.7,62.8L201.7,61.7L202.0,60.6L199.4,59.4L179.5,60.8L173.6,61.7L170.9,62.8Z" fill="#a8131c" fill-rule="evenodd"/><path d="M175.1,63.9L186.8,63.9L199.1,61.7L198.3,60.6L180.6,61.3L177.2,61.7L173.7,62.8Z" fill="#8a0e17" fill-rule="evenodd"/><path d="M178.8,62.8L182.8,63.1L188.0,62.8L187.3,62.0L186.2,61.9Z" fill="#7d0d14" fill-rule="evenodd"/><path d="M81.3,73.8L85.9,73.7L90.3,72.4L98.0,67.1L101.3,65.6L123.4,61.2L134.4,57.9L145.4,53.1L155.3,46.9L160.8,42.2L165.2,37.5L168.3,33.0L171.1,27.5L172.9,22.0L173.6,16.5L172.9,11.7L171.0,7.7L168.8,5.5L166.3,3.9L159.7,2.0L150.9,1.8L141.0,3.6L133.3,6.1L124.5,10.2L101.3,24.4L89.2,28.3L84.8,30.8L79.7,36.3L76.8,43.0L76.0,48.5L76.7,57.3L76.3,59.5L74.3,61.7L68.3,64.8L67.2,66.1L68.1,68.3L71.6,70.9L77.1,73.1ZM238.5,57.3L241.2,57.8L244.5,57.5L247.3,56.2L247.7,55.1L247.0,54.0L244.5,53.1L240.1,53.1L237.6,54.0L236.5,55.1L236.7,56.2ZM269.3,43.0L273.2,43.6L277.4,43.0L279.5,41.9L280.6,39.7L279.0,37.5L276.5,36.4L273.2,36.1L269.9,36.7L267.7,37.8L266.4,39.7L267.3,41.9ZM276.3,12.1L278.7,12.6L280.2,12.1L278.7,11.5Z" fill="#daf2fa" fill-rule="evenodd"/><path d="M77.6,71.6L80.4,72.3L84.8,72.6L88.1,72.1L91.8,70.5L93.2,69.4L94.1,67.2L93.6,65.8L90.7,62.8L90.7,61.7L98.0,58.1L103.5,56.6L117.9,56.1L127.8,54.3L138.8,50.4L148.7,45.0L157.9,37.5L163.7,29.7L165.6,25.3L166.4,20.9L166.2,17.6L164.9,14.3L163.1,12.1L160.8,10.5L154.2,8.5L146.5,8.5L137.7,10.1L130.0,12.8L123.4,15.9L115.7,20.5L101.3,30.3L89.1,35.2L87.0,36.9L84.8,39.7L83.3,43.0L82.6,47.4L83.7,54.0L87.9,61.7L85.8,62.8L77.1,65.3L74.0,67.2L73.5,68.3L73.9,69.4ZM240.1,56.2L243.4,56.2L244.5,55.1L241.2,54.2L239.2,55.1Z" fill="#a9dde8" fill-rule="evenodd"/><path d="M82.1,71.6L88.1,71.2L91.4,69.4L91.9,68.3L90.3,66.5L84.8,65.5L79.3,66.4L76.6,68.3L76.7,69.4L78.1,70.5ZM111.1,50.7L120.1,51.1L128.9,49.6L137.7,46.5L146.5,41.5L153.8,35.2L158.4,28.6L159.6,25.3L159.9,22.0L158.4,17.6L155.9,15.4L152.0,13.8L146.5,13.2L141.0,13.7L135.5,15.0L128.9,17.3L122.3,20.6L116.8,24.1L108.6,30.8L96.4,43.0L94.8,45.2L95.8,46.5Z" fill="#7cc4d6" fill-rule="evenodd"/><path d="M81.0,70.5L83.7,70.9L87.0,70.6L89.5,69.4L89.8,68.3L87.0,66.8L81.5,67.0L79.1,68.3L79.1,69.4ZM116.9,46.3L123.4,46.6L130.0,45.4L137.7,42.4L144.1,38.6L149.1,34.1L152.7,28.6L153.5,24.2L152.2,20.9L149.8,19.1L146.5,18.0L138.8,18.1L128.9,21.1L119.6,26.4L112.7,33.0L110.0,38.6L109.9,40.8L111.3,43.4L113.6,45.2Z" fill="#5ba3d3" fill-rule="evenodd"/><path d="M199.3,0.3h0M207.5,0.3h0M232.0,0.3h0M23.0,8.5h0M121.4,8.5h0M129.6,8.5h0M137.8,8.5h0M146.0,8.5h0M154.2,8.5h0M162.4,8.5h0M187.0,8.5h0M195.2,8.5h0M203.4,8.5h0M211.6,8.5h0M219.8,8.5h0M227.9,8.5h0M236.1,8.5h0M244.3,8.5h0M43.5,16.7h0M51.7,16.7h0M59.9,16.7h0M68.1,16.7h0M76.3,16.7h0M84.5,16.7h0M109.1,16.7h0M117.3,16.7h0M125.5,16.7h0M133.7,16.7h0M141.9,16.7h0M150.1,16.7h0M158.3,16.7h0M166.5,16.7h0M191.1,16.7h0M199.3,16.7h0M207.5,16.7h0M215.7,16.7h0M223.8,16.7h0M232.0,16.7h0M240.2,16.7h0M248.4,16.7h0M256.6,16.7h0M6.7,24.9h0M31.2,24.9h0M39.4,24.9h0M47.6,24.9h0M55.8,24.9h0M64.0,24.9h0M72.2,24.9h0M80.4,24.9h0M96.8,24.9h0M105.0,24.9h0M113.2,24.9h0M121.4,24.9h0M129.6,24.9h0M137.8,24.9h0M146.0,24.9h0M154.2,24.9h0M162.4,24.9h0M170.6,24.9h0M187.0,24.9h0M195.2,24.9h0M203.4,24.9h0M211.6,24.9h0M219.8,24.9h0M227.9,24.9h0M236.1,24.9h0M244.3,24.9h0M260.7,24.9h0M51.7,33.1h0M59.9,33.1h0M68.1,33.1h0M92.7,33.1h0M100.9,33.1h0M109.1,33.1h0M117.3,33.1h0M125.5,33.1h0M133.7,33.1h0M141.9,33.1h0M150.1,33.1h0M158.3,33.1h0M166.5,33.1h0M182.9,33.1h0M191.1,33.1h0M199.3,33.1h0M207.5,33.1h0M215.7,33.1h0M223.8,33.1h0M232.0,33.1h0M240.2,33.1h0M264.8,33.1h0M273.0,33.1h0M281.2,33.1h0M80.4,41.3h0M88.6,41.3h0M96.8,41.3h0M105.0,41.3h0M113.2,41.3h0M121.4,41.3h0M129.6,41.3h0M137.8,41.3h0M146.0,41.3h0M154.2,41.3h0M162.4,41.3h0M178.8,41.3h0M187.0,41.3h0M195.2,41.3h0M203.4,41.3h0M211.6,41.3h0M219.8,41.3h0M227.9,41.3h0M236.1,41.3h0M244.3,41.3h0M260.7,41.3h0M285.3,41.3h0M35.3,49.5h0M76.3,49.5h0M84.5,49.5h0M92.7,49.5h0M100.9,49.5h0M109.1,49.5h0M117.3,49.5h0M125.5,49.5h0M133.7,49.5h0M141.9,49.5h0M158.3,49.5h0M166.5,49.5h0M174.7,49.5h0M182.9,49.5h0M191.1,49.5h0M199.3,49.5h0M207.5,49.5h0M223.8,49.5h0M232.0,49.5h0M240.2,49.5h0M248.4,49.5h0M273.0,49.5h0M47.6,57.7h0M96.8,57.7h0M121.4,57.7h0M129.6,57.7h0M137.8,57.7h0M154.2,57.7h0M162.4,57.7h0M170.6,57.7h0M178.8,57.7h0M187.0,57.7h0M195.2,57.7h0M203.4,57.7h0M211.6,57.7h0M260.7,57.7h0M268.9,57.7h0M76.3,65.9h0M84.5,65.9h0M100.9,65.9h0M150.1,65.9h0M158.3,65.9h0M166.5,65.9h0M174.7,65.9h0M182.9,65.9h0M191.1,65.9h0M207.5,65.9h0M215.7,65.9h0M223.8,65.9h0M232.0,65.9h0M240.2,65.9h0M248.4,65.9h0M256.6,65.9h0M39.4,74.0h0M47.6,74.0h0M80.4,74.0h0M88.6,74.0h0M96.8,74.0h0M121.4,74.0h0M129.6,74.0h0M137.8,74.0h0M146.0,74.0h0M162.4,74.0h0M170.6,74.0h0M187.0,74.0h0M203.4,74.0h0M211.6,74.0h0M219.8,74.0h0M100.9,82.2h0M125.5,82.2h0M133.7,82.2h0M141.9,82.2h0M174.7,82.2h0M182.9,82.2h0M191.1,82.2h0M199.3,82.2h0M207.5,82.2h0M215.7,82.2h0M232.0,82.2h0" stroke="#000" stroke-width="3.44" stroke-linecap="round"/>
<use href="#coast"/>
</g>
<rect x="0" y="0" width="286.39" height="88.12" fill="none" stroke="#000" stroke-width="1.1"/>
<path d="M0.00,88.12v4.8M44.06,88.12v4.8M88.12,88.12v4.8M132.18,88.12v4.8M176.24,88.12v4.8M220.30,88.12v4.8M264.36,88.12v4.8M0,88.12h-4.8M0,66.09h-4.8M0,44.06h-4.8M0,22.03h-4.8M0,0.00h-4.8" stroke="#000" stroke-width="1.1" fill="none"/>
<text x="0.00" y="108.52" font-size="13.92" text-anchor="middle" textLength="15.45" lengthAdjust="spacingAndGlyphs">0°</text>
<text x="44.06" y="108.52" font-size="13.92" text-anchor="middle" textLength="32.70" lengthAdjust="spacingAndGlyphs">20°E</text>
<text x="88.12" y="108.52" font-size="13.92" text-anchor="middle" textLength="32.70" lengthAdjust="spacingAndGlyphs">40°E</text>
<text x="132.18" y="108.52" font-size="13.92" text-anchor="middle" textLength="32.70" lengthAdjust="spacingAndGlyphs">60°E</text>
<text x="176.24" y="108.52" font-size="13.92" text-anchor="middle" textLength="32.70" lengthAdjust="spacingAndGlyphs">80°E</text>
<text x="220.30" y="108.52" font-size="13.92" text-anchor="middle" textLength="41.35" lengthAdjust="spacingAndGlyphs">100°E</text>
<text x="264.36" y="108.52" font-size="13.92" text-anchor="middle" textLength="41.35" lengthAdjust="spacingAndGlyphs">120°E</text>
<text x="-9.60" y="93.52" font-size="13.92" text-anchor="end" textLength="34.28" lengthAdjust="spacingAndGlyphs">30°N</text>
<text x="-9.60" y="71.49" font-size="13.92" text-anchor="end" textLength="34.28" lengthAdjust="spacingAndGlyphs">40°N</text>
<text x="-9.60" y="49.46" font-size="13.92" text-anchor="end" textLength="34.28" lengthAdjust="spacingAndGlyphs">50°N</text>
<text x="-9.60" y="27.43" font-size="13.92" text-anchor="end" textLength="34.28" lengthAdjust="spacingAndGlyphs">60°N</text>
<text x="-9.60" y="5.40" font-size="13.92" text-anchor="end" textLength="34.28" lengthAdjust="spacingAndGlyphs">70°N</text>
<text x="0.40" y="-8.40" font-size="16.70" text-anchor="start" textLength="84.28" lengthAdjust="spacingAndGlyphs">(b) HTADV</text>
</g>
<g transform="translate(43.4,347.9)">
<g clip-path="url(#pc)">
<path d="M236.5,87.0L239.0,87.8L240.1,87.0L239.6,83.7L236.3,78.2L230.0,71.6L229.5,70.5L231.5,69.4L241.2,67.3L244.2,66.1L242.6,65.0L221.4,64.9L172.9,68.2L171.8,68.1L171.0,67.2L171.2,63.9L176.2,61.7L189.5,58.3L204.9,59.5L219.9,59.5L222.3,58.4L221.3,55.1L223.6,53.8L226.9,53.5L237.9,54.1L241.2,53.7L244.5,52.5L246.2,50.7L245.6,49.1L243.4,47.4L238.7,45.2L237.9,44.1L239.1,33.0L240.3,30.8L242.3,29.5L260.0,24.3L265.2,20.9L266.7,17.6L265.5,14.4L262.3,12.1L257.8,10.5L251.1,9.2L244.5,8.6L237.9,8.8L232.4,9.7L228.5,11.0L224.9,13.2L218.1,21.0L214.8,23.4L210.4,24.4L199.4,24.7L192.8,26.9L187.3,30.9L183.2,36.3L182.1,40.8L184.2,47.4L183.6,48.5L175.1,54.0L161.9,60.2L158.1,63.9L147.0,68.3L141.8,72.7L140.8,74.9L142.1,75.8L144.3,76.0L159.7,74.0L171.8,74.8L187.3,74.7L214.3,71.6L222.5,71.1L223.9,71.6L224.7,72.6L226.2,76.0L230.2,81.5ZM80.8,76.0L85.9,76.3L90.3,75.5L93.3,73.8L94.1,71.6L92.5,69.8L90.3,68.7L83.7,67.7L66.1,68.4L61.3,69.4L58.9,70.5L58.3,71.6L59.5,73.0L63.9,74.4ZM84.6,49.6L98.0,50.1L106.8,48.8L110.2,47.4L112.7,45.2L113.7,43.0L113.5,40.8L111.3,37.9L106.8,35.5L101.3,34.3L94.7,33.9L83.7,34.4L76.0,35.5L70.5,37.5L68.3,39.1L67.2,40.8L67.2,43.0L67.8,44.1L70.5,46.3L76.0,48.3ZM33.5,33.0L37.5,33.6L40.8,33.4L44.1,32.1L44.7,30.8L44.0,29.7L40.8,28.4L34.1,28.5L31.3,29.7L30.7,30.8L31.3,31.9ZM53.1,13.2L63.9,14.2L74.9,13.6L82.6,11.7L85.6,9.9L86.1,8.8L85.8,7.7L84.7,6.6L70.5,0.4L65.0,-1.0L58.4,-0.9L54.0,0.2L50.2,2.2L44.3,7.7L44.1,8.8L44.6,9.9L46.1,11.0Z" fill="#fde0e0" fill-rule="evenodd"/><path d="M235.4,84.8L236.8,85.4L238.0,84.8L237.7,82.6L235.9,79.3L230.2,73.4L228.0,72.2L226.9,72.5L227.1,74.9L228.8,78.2L232.4,82.5ZM81.3,73.8L84.8,74.5L88.1,74.2L90.3,72.7L90.3,71.6L89.0,70.5L87.0,69.9L82.6,70.0L79.7,71.6L79.8,72.7ZM146.9,73.8L150.9,73.7L160.8,72.1L171.8,74.2L187.3,74.2L219.2,70.3L225.8,70.4L234.5,67.2L233.9,66.1L222.5,65.5L169.6,69.1L168.5,69.1L167.3,68.3L169.8,66.1L170.1,63.9L171.9,62.8L188.4,57.4L191.7,57.4L207.1,59.2L214.8,59.1L218.5,58.4L218.2,57.3L214.6,54.0L214.7,52.9L217.0,50.6L224.7,47.1L227.3,45.2L229.0,43.0L229.8,40.8L229.2,37.5L225.8,34.0L220.3,31.9L209.3,30.7L200.5,28.1L197.2,28.3L193.9,29.3L188.8,33.0L186.5,37.5L186.7,40.8L190.8,46.3L190.5,47.4L189.3,48.5L182.8,51.0L177.7,54.0L165.2,59.3L159.3,63.9L151.1,67.2L147.9,69.4L145.9,71.6L145.5,72.7ZM233.3,50.7L236.8,51.5L239.7,50.7L239.0,49.6L235.7,49.1L233.4,49.6ZM92.5,44.1L96.9,44.7L101.3,44.5L103.5,43.8L104.6,43.0L104.9,41.9L104.3,40.8L101.3,39.4L93.6,39.6L89.9,40.8L88.9,41.9L89.7,43.0ZM58.2,6.6L61.7,7.4L65.0,7.0L67.2,5.7L67.6,4.4L67.0,3.3L65.0,2.2L59.5,2.0L56.9,3.3L56.3,4.4L56.7,5.5Z" fill="#fcb4a0" fill-rule="evenodd"/><path d="M233.9,82.6L235.7,83.4L236.3,82.6L235.6,80.4L232.4,76.3L229.1,74.4L228.6,74.9L229.1,77.1L231.3,80.2ZM174.2,73.8L181.7,74.0L191.7,73.3L224.7,69.2L227.4,68.3L228.8,67.2L225.8,66.4L221.4,66.2L178.4,68.8L168.5,70.1L165.4,71.6L167.4,72.9ZM149.3,71.6L153.1,72.0L161.9,69.9L167.4,66.9L168.4,66.1L169.0,63.9L170.8,62.8L181.2,59.5L187.3,56.7L191.7,56.6L201.1,58.4L207.1,58.8L214.8,58.5L215.5,57.3L209.3,52.9L204.9,47.7L201.6,47.8L189.5,50.3L184.0,51.8L178.4,54.7L166.5,59.5L160.5,63.9L151.1,68.3L149.2,70.5ZM202.8,46.3L203.8,47.2L208.2,47.2L213.7,46.7L219.2,45.5L223.6,42.9L224.9,40.8L224.6,38.6L222.5,36.2L218.1,34.6L206.0,34.0L198.3,31.2L195.0,31.8L192.8,33.0L190.4,36.3L190.9,39.7L192.8,41.3L199.9,44.1Z" fill="#fb8a6a" fill-rule="evenodd"/><path d="M232.9,80.4L233.5,80.8L234.1,80.4L233.7,79.3L231.3,76.8L230.7,77.1L231.3,78.7ZM169.3,72.7L177.3,73.6L188.4,73.3L223.8,68.3L224.2,67.2L211.6,67.2L177.3,69.3L169.4,70.5L167.7,71.6ZM152.8,70.5L157.5,70.2L164.1,67.9L167.1,66.1L167.6,63.9L169.4,62.8L179.7,59.5L184.0,56.7L186.2,55.9L190.6,55.8L206.0,58.4L211.0,58.4L213.1,57.3L209.3,54.7L202.7,52.3L193.9,51.2L187.3,51.8L180.6,55.0L171.8,57.9L166.3,60.3L163.0,63.3L154.3,67.2L152.1,69.4ZM210.2,43.0L213.7,43.5L217.4,43.0L219.5,41.9L220.5,39.7L219.2,38.0L217.0,37.0L213.7,36.8L210.0,37.5L207.9,38.6L207.2,39.7L208.2,41.9Z" fill="#fb6248" fill-rule="evenodd"/><path d="M173.7,72.7L179.5,73.1L187.3,72.8L194.6,71.6L200.5,69.8L204.9,69.4L179.5,69.7L173.0,70.5L171.0,71.6ZM158.2,67.2L160.8,67.4L163.6,66.1L163.0,65.7L160.8,65.8ZM169.2,60.6L170.7,61.1L173.8,60.6L176.5,59.5L177.3,58.4L174.8,58.4ZM198.2,56.2L204.9,57.3L206.0,57.3L207.4,56.2L204.9,55.0L200.5,53.9L193.1,54.0Z" fill="#ef3b2c" fill-rule="evenodd"/><path d="M176.3,72.7L186.2,72.6L192.6,71.6L195.5,70.5L190.6,69.8L180.6,69.8L174.7,70.5L172.5,71.6Z" fill="#d42027" fill-rule="evenodd"/><path d="M173.9,71.6L178.4,72.5L184.0,72.5L190.8,71.6L192.2,70.5L180.6,70.1L176.5,70.5Z" fill="#a8131c" fill-rule="evenodd"/><path d="M175.5,71.6L179.5,72.2L184.0,72.2L188.8,71.6L188.9,70.5L179.5,70.4Z" fill="#8a0e17" fill-rule="evenodd"/><path d="M177.4,71.6L181.7,72.0L186.7,71.6L185.1,70.8L182.8,70.6Z" fill="#7d0d14" fill-rule="evenodd"/><path d="M180.8,71.6L181.7,71.6L183.1,71.6L181.7,71.5Z" fill="#67000d" fill-rule="evenodd"/><path d="M124.0,73.8L128.9,73.7L132.2,72.9L134.7,71.6L136.0,69.4L135.5,68.3L133.3,66.7L127.8,65.5L120.1,66.3L116.3,68.3L115.8,70.5L116.8,71.6L120.1,73.2ZM3.0,71.6L5.5,72.3L8.8,72.1L12.0,70.5L13.9,68.3L15.1,65.0L14.8,58.4L14.1,56.2L12.1,54.4L8.8,53.5L4.4,54.4L1.9,56.2L-0.7,59.5L-1.9,62.8L-1.6,66.1L0.1,69.4ZM178.2,66.1L197.2,65.5L212.6,64.3L221.4,63.0L230.2,63.5L236.8,61.4L247.8,60.7L250.6,59.5L247.8,58.3L240.1,58.1L222.5,61.4L212.6,60.3L189.5,59.8L178.4,61.6L174.7,62.8L173.1,63.9L174.0,65.2ZM145.5,65.0L152.0,64.9L155.5,63.9L157.0,62.8L157.1,59.5L158.4,57.3L157.7,55.1L155.3,53.3L150.9,52.1L148.7,52.4L145.4,54.2L144.0,56.2L145.0,60.6L143.4,62.8L143.5,63.9ZM280.7,54.0L282.0,54.6L283.1,54.2L284.1,52.9L285.6,47.4L285.0,40.8L283.9,38.6L282.0,37.6L279.8,39.5L278.5,44.1L278.8,49.6ZM146.2,50.7L153.1,50.1L158.4,47.4L168.2,36.3L182.4,24.2L189.5,15.9L199.9,11.0L201.6,9.0L201.6,7.7L199.4,6.0L196.1,5.6L187.3,7.5L182.8,7.8L163.0,3.6L149.8,2.9L142.1,3.6L135.5,5.1L128.9,7.6L123.5,11.0L119.0,15.4L117.1,18.7L116.6,22.0L117.8,25.3L128.0,36.3L135.5,46.6L139.9,49.3ZM8.9,26.4L10.5,26.4L11.9,25.3L12.0,23.1L11.0,22.1L8.8,22.0L7.7,23.1L7.7,25.3Z" fill="#daf2fa" fill-rule="evenodd"/><path d="M123.3,72.7L130.0,72.3L132.2,71.3L133.1,70.5L133.3,69.4L131.1,67.6L125.6,66.7L121.2,67.3L119.1,68.3L118.2,69.4L118.3,70.5L119.6,71.6ZM175.5,65.0L178.4,65.5L185.1,65.6L209.3,64.1L217.0,62.9L218.0,61.7L211.5,60.5L188.4,60.3L181.7,61.2L175.6,62.8L174.2,63.9ZM147.6,63.9L152.0,64.3L155.5,62.8L155.2,61.7L153.8,60.6L156.0,57.3L155.7,56.2L153.1,54.8L150.9,54.6L148.7,55.1L147.0,56.2L146.6,57.3L147.0,58.4L149.2,60.6L147.0,62.8ZM6.3,59.5L7.7,60.1L9.9,59.9L11.7,58.4L11.9,57.3L11.3,56.2L9.9,55.4L6.6,55.7L5.2,57.3L5.3,58.4ZM144.3,31.9L148.7,32.5L154.2,32.2L159.7,30.9L165.2,28.7L169.6,26.1L173.1,23.1L175.0,19.8L174.8,16.5L173.2,14.3L169.6,12.0L164.1,10.0L158.6,9.0L152.0,8.7L146.5,9.1L141.0,10.2L135.9,12.1L132.5,14.3L130.4,16.5L129.4,18.7L129.6,22.0L131.1,24.5L134.4,27.6L138.8,30.1Z" fill="#a9dde8" fill-rule="evenodd"/><path d="M122.2,71.6L125.6,72.1L128.9,71.7L131.0,70.5L131.2,69.4L129.9,68.3L127.8,67.7L122.3,68.0L120.1,69.4L120.3,70.5ZM178.6,65.0L192.8,64.8L210.4,63.5L215.0,62.8L215.8,61.7L209.3,60.8L188.4,60.7L180.6,61.7L176.6,62.8L175.3,63.9ZM150.2,62.8L152.0,63.1L153.1,62.8L152.0,62.3ZM148.9,58.4L152.0,59.1L153.7,58.4L154.5,57.3L153.1,55.9L149.8,55.8L148.2,57.3ZM7.6,57.3L8.8,58.0L9.7,57.3L8.8,56.9ZM146.0,23.1L152.0,24.2L157.5,23.4L161.9,21.0L162.9,18.7L161.3,16.5L157.5,14.9L153.1,14.4L147.6,15.1L144.2,16.5L142.4,18.7L142.8,20.9Z" fill="#7cc4d6" fill-rule="evenodd"/><path d="M122.4,70.5L126.7,71.2L128.9,70.5L129.2,69.4L126.7,68.4L124.5,68.5L122.1,69.4ZM176.7,63.9L181.7,64.7L193.9,64.4L211.5,62.9L212.5,62.8L213.7,61.7L209.3,61.2L187.3,61.1L178.4,62.6ZM150.0,57.3L150.9,57.8L152.7,57.3L150.9,56.7Z" fill="#5ba3d3" fill-rule="evenodd"/><path d="M181.2,63.9L191.4,63.9L201.9,62.8L198.3,61.7L188.4,61.7L180.5,62.8Z" fill="#4292c6" fill-rule="evenodd"/><path d="M182.7,62.8L187.3,63.5L197.6,62.8L191.7,62.2Z" fill="#2171b5" fill-rule="evenodd"/><path d="M188.3,62.8L189.5,62.8L190.2,62.8L189.5,62.8Z" fill="#08519c" fill-rule="evenodd"/><path d="M47.6,6.3h0M55.8,6.3h0M64.0,6.3h0M72.2,6.3h0M80.4,6.3h0M88.6,6.3h0M178.8,6.3h0M195.2,6.3h0M203.4,6.3h0M219.8,6.3h0M227.9,6.3h0M236.1,6.3h0M244.3,6.3h0M252.5,6.3h0M260.7,6.3h0M268.9,6.3h0M59.9,14.5h0M68.1,14.5h0M100.9,14.5h0M133.7,14.5h0M141.9,14.5h0M150.1,14.5h0M158.3,14.5h0M166.5,14.5h0M174.7,14.5h0M182.9,14.5h0M223.8,14.5h0M232.0,14.5h0M240.2,14.5h0M248.4,14.5h0M256.6,14.5h0M264.8,14.5h0M72.2,22.7h0M137.8,22.7h0M146.0,22.7h0M154.2,22.7h0M162.4,22.7h0M170.6,22.7h0M211.6,22.7h0M219.8,22.7h0M227.9,22.7h0M236.1,22.7h0M244.3,22.7h0M252.5,22.7h0M76.3,30.9h0M117.3,30.9h0M125.5,30.9h0M141.9,30.9h0M150.1,30.9h0M158.3,30.9h0M166.5,30.9h0M191.1,30.9h0M199.3,30.9h0M207.5,30.9h0M215.7,30.9h0M223.8,30.9h0M232.0,30.9h0M240.2,30.9h0M256.6,30.9h0M47.6,39.1h0M64.0,39.1h0M72.2,39.1h0M80.4,39.1h0M88.6,39.1h0M96.8,39.1h0M105.0,39.1h0M146.0,39.1h0M187.0,39.1h0M195.2,39.1h0M203.4,39.1h0M211.6,39.1h0M219.8,39.1h0M227.9,39.1h0M236.1,39.1h0M244.3,39.1h0M277.1,39.1h0M35.3,47.3h0M68.1,47.3h0M76.3,47.3h0M84.5,47.3h0M92.7,47.3h0M100.9,47.3h0M109.1,47.3h0M117.3,47.3h0M141.9,47.3h0M150.1,47.3h0M158.3,47.3h0M166.5,47.3h0M191.1,47.3h0M199.3,47.3h0M232.0,47.3h0M240.2,47.3h0M273.0,47.3h0M281.2,47.3h0M146.0,55.5h0M154.2,55.5h0M162.4,55.5h0M178.8,55.5h0M187.0,55.5h0M203.4,55.5h0M211.6,55.5h0M219.8,55.5h0M236.1,55.5h0M125.5,63.7h0M133.7,63.7h0M141.9,63.7h0M150.1,63.7h0M158.3,63.7h0M166.5,63.7h0M174.7,63.7h0M182.9,63.7h0M191.1,63.7h0M199.3,63.7h0M215.7,63.7h0M232.0,63.7h0M240.2,63.7h0M256.6,63.7h0M39.4,71.9h0M88.6,71.9h0M96.8,71.9h0M105.0,71.9h0M113.2,71.9h0M121.4,71.9h0M129.6,71.9h0M137.8,71.9h0M146.0,71.9h0M154.2,71.9h0M162.4,71.9h0M170.6,71.9h0M178.8,71.9h0M187.0,71.9h0M227.9,71.9h0M236.1,71.9h0M244.3,71.9h0M133.7,80.1h0M174.7,80.1h0M182.9,80.1h0M191.1,80.1h0M199.3,80.1h0M207.5,80.1h0M215.7,80.1h0M223.8,80.1h0M232.0,80.1h0M240.2,80.1h0" stroke="#000" stroke-width="3.44" stroke-linecap="round"/>
<use href="#coast"/>
</g>
<rect x="0" y="0" width="286.39" height="88.12" fill="none" stroke="#000" stroke-width="1.1"/>
<path d="M0.00,88.12v4.8M44.06,88.12v4.8M88.12,88.12v4.8M132.18,88.12v4.8M176.24,88.12v4.8M220.30,88.12v4.8M264.36,88.12v4.8M0,88.12h-4.8M0,66.09h-4.8M0,44.06h-4.8M0,22.03h-4.8M0,0.00h-4.8" stroke="#000" stroke-width="1.1" fill="none"/>
<text x="0.00" y="108.52" font-size="13.92" text-anchor="middle" textLength="15.45" lengthAdjust="spacingAndGlyphs">0°</text>
<text x="44.06" y="108.52" font-size="13.92" text-anchor="middle" textLength="32.70" lengthAdjust="spacingAndGlyphs">20°E</text>
<text x="88.12" y="108.52" font-size="13.92" text-anchor="middle" textLength="32.70" lengthAdjust="spacingAndGlyphs">40°E</text>
<text x="132.18" y="108.52" font-size="13.92" text-anchor="middle" textLength="32.70" lengthAdjust="spacingAndGlyphs">60°E</text>
<text x="176.24" y="108.52" font-size="13.92" text-anchor="middle" textLength="32.70" lengthAdjust="spacingAndGlyphs">80°E</text>
<text x="220.30" y="108.52" font-size="13.92" text-anchor="middle" textLength="41.35" lengthAdjust="spacingAndGlyphs">100°E</text>
<text x="264.36" y="108.52" font-size="13.92" text-anchor="middle" textLength="41.35" lengthAdjust="spacingAndGlyphs">120°E</text>
<text x="-9.60" y="93.52" font-size="13.92" text-anchor="end" textLength="34.28" lengthAdjust="spacingAndGlyphs">30°N</text>
<text x="-9.60" y="71.49" font-size="13.92" text-anchor="end" textLength="34.28" lengthAdjust="spacingAndGlyphs">40°N</text>
<text x="-9.60" y="49.46" font-size="13.92" text-anchor="end" textLength="34.28" lengthAdjust="spacingAndGlyphs">50°N</text>
<text x="-9.60" y="27.43" font-size="13.92" text-anchor="end" textLength="34.28" lengthAdjust="spacingAndGlyphs">60°N</text>
<text x="-9.60" y="5.40" font-size="13.92" text-anchor="end" textLength="34.28" lengthAdjust="spacingAndGlyphs">70°N</text>
<text x="0.40" y="-8.40" font-size="16.70" text-anchor="start" textLength="84.77" lengthAdjust="spacingAndGlyphs">(c) VADHR</text>
</g>
<g transform="translate(43.4,497.5)">
<g clip-path="url(#pc)">
<path d="M191.5,79.3L193.9,79.9L197.1,79.3L193.9,78.8ZM113.6,76.0L122.3,76.3L123.7,76.0L124.7,74.9L122.4,72.7L119.0,71.1L104.6,67.2L103.6,66.1L103.1,62.8L101.6,59.5L95.5,54.0L95.5,51.8L98.0,47.4L101.1,44.1L104.6,41.8L124.5,34.8L151.6,22.0L156.2,18.7L158.0,16.5L158.4,14.3L158.0,13.2L156.4,11.7L150.9,9.9L143.2,9.4L125.6,10.7L104.6,13.7L92.5,12.6L88.1,13.8L82.6,17.0L78.4,20.9L75.0,25.3L72.1,30.8L71.1,36.3L72.1,41.9L77.9,57.3L77.1,60.6L74.1,65.0L73.3,67.2L74.3,70.5L78.2,73.2L83.7,74.8L88.1,74.9L98.0,73.8ZM224.4,56.2L228.0,56.9L230.8,56.2L229.1,55.1L226.9,55.0L225.8,55.1Z" fill="#fde0e0" fill-rule="evenodd"/><path d="M111.3,74.9L119.0,75.4L121.4,74.9L121.6,73.8L120.1,72.7L115.7,70.9L102.4,68.1L101.5,67.2L101.5,63.9L100.2,60.6L98.0,58.4L94.7,56.8L90.3,56.1L85.9,57.0L83.2,59.5L80.1,66.1L80.0,68.3L80.7,69.4L83.7,71.0L96.9,72.0ZM84.7,47.4L85.9,47.6L88.1,47.0L96.9,39.7L102.4,36.7L122.3,30.9L144.9,22.0L149.9,18.7L150.9,16.3L150.5,15.4L148.6,14.3L142.1,13.6L131.1,14.8L105.7,19.3L103.5,19.0L95.8,16.4L91.4,17.0L87.3,19.8L81.5,25.9L78.9,29.7L77.9,33.0L78.0,37.5L79.3,41.2L81.5,44.7Z" fill="#fcb4a0" fill-rule="evenodd"/><path d="M108.9,73.8L115.7,74.6L119.0,73.8L117.9,72.7L113.5,71.1L100.2,69.1L99.4,68.3L100.3,63.9L99.5,61.7L97.6,59.5L94.7,58.0L89.2,57.8L87.0,58.7L85.0,60.6L84.5,63.9L85.3,66.1L87.0,67.8L90.3,69.1L99.1,70.7ZM86.9,36.3L89.2,36.8L91.4,36.4L98.0,34.0L104.9,28.6L105.6,27.5L105.3,26.4L98.0,19.8L94.7,18.9L91.8,19.8L88.6,23.1L85.6,29.7L85.2,34.1Z" fill="#fb8a6a" fill-rule="evenodd"/><path d="M107.9,72.7L113.5,73.5L115.1,72.7L110.1,71.3L105.5,71.6ZM90.8,67.2L93.6,68.1L96.9,67.9L99.2,65.0L98.4,61.7L95.8,59.5L93.6,58.7L90.3,58.7L88.1,59.5L86.9,60.6L86.3,62.8L87.5,65.0ZM92.2,30.8L93.6,31.3L95.8,30.9L98.6,28.6L99.1,25.3L98.0,23.2L96.7,22.0L93.6,21.8L91.1,24.2L90.4,26.4L90.5,28.6Z" fill="#fb6248" fill-rule="evenodd"/><path d="M94.1,66.1L95.8,66.0L96.9,65.2L97.4,63.9L96.9,62.7L95.8,61.5L93.6,60.4L90.3,60.9L89.5,61.7L89.4,62.8L90.1,63.9Z" fill="#ef3b2c" fill-rule="evenodd"/><path d="M93.6,65.0L95.8,64.6L96.1,63.9L95.7,62.8L93.6,61.5L91.8,61.7L91.2,62.8Z" fill="#d42027" fill-rule="evenodd"/><path d="M225.2,92.5L229.9,92.5L230.6,91.4L233.9,83.7L235.7,73.8L236.8,72.7L255.0,70.5L256.9,69.4L257.2,67.2L259.3,65.0L259.3,62.8L257.8,61.4L255.5,60.4L252.2,60.0L248.9,60.4L246.7,61.3L245.0,62.8L244.7,63.9L245.5,66.1L244.2,67.2L242.3,67.3L237.9,67.2L233.5,66.3L229.1,66.7L212.5,66.1L207.5,65.0L209.1,63.9L218.1,61.0L218.9,60.6L219.0,59.5L212.6,56.7L200.0,54.0L200.0,52.9L209.1,45.2L212.6,43.0L215.9,42.0L223.6,41.2L226.9,39.7L229.2,37.5L229.7,34.1L228.4,31.9L225.8,29.7L212.7,23.1L202.7,15.6L197.2,12.9L192.8,11.8L188.4,11.4L184.0,11.7L179.5,12.8L172.9,16.1L151.2,29.7L144.1,35.2L138.1,41.9L135.3,47.4L134.2,55.1L127.3,58.4L126.5,59.5L128.9,61.2L138.6,63.9L140.4,65.0L139.4,66.1L128.9,69.9L127.9,70.5L127.4,71.6L128.1,72.7L131.4,74.9L137.7,76.8L145.4,77.5L156.4,77.4L169.6,76.5L189.5,73.7L226.9,73.0L228.2,73.8L225.2,84.8ZM17.9,54.0L24.2,54.2L29.7,53.4L33.2,51.8L34.0,50.7L33.9,49.6L32.9,48.5L29.7,47.0L22.0,46.0L14.3,46.8L11.0,48.8L10.5,50.7L11.4,51.8L14.3,53.2ZM7.2,43.0L11.0,43.0L14.3,42.3L25.3,37.5L37.5,36.4L41.9,34.8L45.2,32.9L50.7,27.8L53.9,22.0L54.6,16.5L52.9,12.1L50.9,9.9L48.5,8.4L41.9,6.6L34.1,7.4L27.5,10.4L24.0,13.2L21.2,16.5L19.5,19.8L17.6,25.8L16.5,27.5L14.3,28.8L3.4,31.9L1.1,33.4L-0.5,35.2L-1.1,37.5L0.0,39.8L2.9,41.9Z" fill="#daf2fa" fill-rule="evenodd"/><path d="M226.5,91.4L228.0,92.2L229.1,91.5L231.9,87.0L234.0,80.4L234.6,73.8L235.2,72.7L237.9,71.6L245.7,70.5L247.6,69.4L233.5,67.3L207.1,66.9L188.5,65.0L206.0,63.2L212.6,61.3L214.2,60.6L214.8,59.5L212.6,58.1L207.1,56.6L198.3,55.6L183.5,55.1L177.8,54.0L179.2,52.9L182.2,51.8L198.3,46.8L218.1,39.0L220.8,37.5L221.9,35.2L221.1,33.0L218.1,30.7L212.6,28.3L191.7,21.2L187.3,20.2L179.5,20.3L171.8,22.6L165.2,25.9L159.2,29.7L154.2,34.1L151.0,38.6L149.5,43.0L149.8,46.8L152.0,50.7L155.6,54.0L153.0,55.1L138.8,57.7L136.7,58.4L135.5,59.5L137.7,60.8L145.4,62.3L167.5,63.9L167.3,65.0L154.2,66.6L141.0,69.2L134.4,71.3L133.0,72.7L134.2,73.8L138.8,75.0L146.5,75.4L156.4,75.2L189.5,72.4L226.9,72.2L229.1,72.6L229.4,73.8L227.3,79.3L226.2,83.7L225.9,88.1ZM249.5,65.0L251.1,65.6L253.3,65.6L254.9,65.0L255.6,63.9L254.4,62.6L251.1,62.2L249.5,62.8L248.9,63.6ZM19.5,50.7L22.0,51.2L24.9,50.7L22.0,49.6Z" fill="#a9dde8" fill-rule="evenodd"/><path d="M227.6,90.3L229.1,90.0L230.2,88.7L232.1,84.8L233.7,78.2L234.0,72.7L235.7,71.5L239.3,70.5L240.1,69.4L233.5,67.9L171.8,66.4L159.7,67.4L149.8,68.9L143.2,70.5L140.6,71.6L140.1,72.7L144.2,73.8L152.0,74.1L186.2,71.6L229.1,71.9L230.5,72.7L227.5,80.4L226.9,83.7L226.6,88.1ZM170.3,62.8L200.5,63.3L208.2,62.0L211.6,60.6L212.3,59.5L209.3,57.8L202.7,56.6L170.7,55.8L150.9,56.9L143.2,58.3L141.2,59.5L143.2,60.6L152.0,62.0ZM176.9,46.3L187.3,46.3L196.1,44.3L211.7,38.6L214.9,36.3L215.1,34.1L213.7,32.6L210.2,30.8L198.3,28.0L184.0,26.3L175.0,27.5L169.8,29.7L165.4,33.0L163.0,36.3L162.5,39.7L163.3,41.9L166.3,44.3L170.7,45.5Z" fill="#7cc4d6" fill-rule="evenodd"/><path d="M227.5,88.1L228.0,89.0L229.1,88.8L232.0,83.7L233.3,77.1L232.4,72.8L232.0,73.8L230.2,75.4L228.4,79.3L227.2,84.8ZM150.8,72.7L160.2,72.7L187.3,70.8L211.5,71.4L228.0,71.1L230.2,71.5L232.4,72.7L236.3,70.5L236.6,69.4L233.5,68.5L170.7,67.6L154.3,69.4L149.7,70.5L147.7,71.6ZM193.8,62.8L204.9,62.2L209.8,60.6L210.5,59.5L207.1,57.8L200.5,56.8L172.9,56.5L153.1,57.5L147.7,58.4L145.7,59.5L149.8,60.9L159.7,61.9ZM184.7,43.0L189.5,43.0L195.0,41.8L206.1,37.5L208.2,35.2L207.7,34.1L206.0,33.0L198.3,31.2L189.5,30.9L181.7,32.3L179.5,33.2L177.1,35.2L176.6,36.3L176.8,38.6L179.5,41.3Z" fill="#5ba3d3" fill-rule="evenodd"/><path d="M228.7,85.9L229.1,86.4L230.2,85.4L231.5,82.6L232.1,78.2L231.3,76.6L230.2,77.6L228.9,80.4L228.3,83.7ZM208.9,70.5L219.2,70.5L222.7,69.4L203.2,69.4ZM187.4,61.7L195.0,62.3L201.6,62.1L207.1,60.6L207.9,59.5L203.8,57.8L196.1,57.2L164.1,57.6L156.1,58.4L153.1,59.5L156.7,60.6L163.0,61.2Z" fill="#4292c6" fill-rule="evenodd"/><path d="M228.9,83.7L229.1,84.8L230.4,83.7L231.3,81.5L231.3,78.2L230.0,79.3ZM190.8,61.7L201.6,61.8L206.1,60.6L206.8,59.5L202.7,58.0L196.1,57.5L166.3,57.9L160.3,58.4L156.6,59.5L164.1,60.8Z" fill="#2171b5" fill-rule="evenodd"/><path d="M230.1,81.5L230.2,81.9L230.2,81.1ZM193.9,61.7L202.7,61.3L205.0,60.6L205.8,59.5L202.7,58.2L196.1,57.7L167.4,58.2L160.1,59.5L166.3,60.6L185.1,60.9Z" fill="#08519c" fill-rule="evenodd"/><path d="M185.5,60.6L198.3,61.5L203.8,60.7L204.8,59.5L201.6,58.3L196.1,57.9L184.0,58.6L171.8,58.5L164.1,59.5L171.8,60.3Z" fill="#08306b" fill-rule="evenodd"/><path d="M190.9,60.6L199.4,61.0L201.8,60.6L202.8,59.5L196.1,58.4L187.6,59.5Z" fill="#081a40" fill-rule="evenodd"/><path d="M193.0,60.6L199.4,60.7L201.7,59.5L196.1,58.7L190.1,59.5Z" fill="#0b2a5e" fill-rule="evenodd"/><path d="M47.6,4.2h0M55.8,4.2h0M64.0,4.2h0M203.4,4.2h0M211.6,4.2h0M219.8,4.2h0M227.9,4.2h0M19.0,12.4h0M27.1,12.4h0M35.3,12.4h0M43.5,12.4h0M51.7,12.4h0M59.9,12.4h0M68.1,12.4h0M117.3,12.4h0M125.5,12.4h0M133.7,12.4h0M141.9,12.4h0M150.1,12.4h0M158.3,12.4h0M166.5,12.4h0M191.1,12.4h0M199.3,12.4h0M207.5,12.4h0M215.7,12.4h0M223.8,12.4h0M256.6,12.4h0M23.0,20.6h0M31.2,20.6h0M39.4,20.6h0M47.6,20.6h0M55.8,20.6h0M80.4,20.6h0M88.6,20.6h0M96.8,20.6h0M105.0,20.6h0M113.2,20.6h0M121.4,20.6h0M129.6,20.6h0M137.8,20.6h0M146.0,20.6h0M154.2,20.6h0M178.8,20.6h0M187.0,20.6h0M195.2,20.6h0M203.4,20.6h0M211.6,20.6h0M219.8,20.6h0M244.3,20.6h0M277.1,20.6h0M2.6,28.8h0M10.8,28.8h0M19.0,28.8h0M27.1,28.8h0M35.3,28.8h0M43.5,28.8h0M76.3,28.8h0M84.5,28.8h0M92.7,28.8h0M100.9,28.8h0M109.1,28.8h0M117.3,28.8h0M125.5,28.8h0M133.7,28.8h0M141.9,28.8h0M166.5,28.8h0M174.7,28.8h0M182.9,28.8h0M191.1,28.8h0M199.3,28.8h0M207.5,28.8h0M6.7,37.0h0M14.9,37.0h0M23.0,37.0h0M31.2,37.0h0M39.4,37.0h0M47.6,37.0h0M72.2,37.0h0M80.4,37.0h0M88.6,37.0h0M96.8,37.0h0M105.0,37.0h0M113.2,37.0h0M121.4,37.0h0M154.2,37.0h0M162.4,37.0h0M170.6,37.0h0M178.8,37.0h0M187.0,37.0h0M195.2,37.0h0M203.4,37.0h0M211.6,37.0h0M219.8,37.0h0M227.9,37.0h0M236.1,37.0h0M2.6,45.2h0M10.8,45.2h0M19.0,45.2h0M27.1,45.2h0M35.3,45.2h0M43.5,45.2h0M68.1,45.2h0M76.3,45.2h0M84.5,45.2h0M92.7,45.2h0M100.9,45.2h0M109.1,45.2h0M150.1,45.2h0M158.3,45.2h0M166.5,45.2h0M174.7,45.2h0M182.9,45.2h0M191.1,45.2h0M207.5,45.2h0M232.0,45.2h0M273.0,45.2h0M281.2,45.2h0M6.7,53.4h0M14.9,53.4h0M23.0,53.4h0M80.4,53.4h0M88.6,53.4h0M96.8,53.4h0M121.4,53.4h0M129.6,53.4h0M137.8,53.4h0M146.0,53.4h0M154.2,53.4h0M162.4,53.4h0M170.6,53.4h0M178.8,53.4h0M187.0,53.4h0M203.4,53.4h0M236.1,53.4h0M268.9,53.4h0M277.1,53.4h0M84.5,61.6h0M100.9,61.6h0M125.5,61.6h0M133.7,61.6h0M141.9,61.6h0M158.3,61.6h0M166.5,61.6h0M174.7,61.6h0M182.9,61.6h0M191.1,61.6h0M207.5,61.6h0M215.7,61.6h0M72.2,69.8h0M80.4,69.8h0M88.6,69.8h0M105.0,69.8h0M113.2,69.8h0M121.4,69.8h0M129.6,69.8h0M137.8,69.8h0M146.0,69.8h0M154.2,69.8h0M162.4,69.8h0M178.8,69.8h0M187.0,69.8h0M195.2,69.8h0M203.4,69.8h0M211.6,69.8h0M219.8,69.8h0M227.9,69.8h0M236.1,69.8h0M84.5,78.0h0M125.5,78.0h0M133.7,78.0h0M141.9,78.0h0M150.1,78.0h0M174.7,78.0h0M215.7,78.0h0M232.0,78.0h0M240.2,78.0h0M121.4,86.2h0M129.6,86.2h0M195.2,86.2h0M211.6,86.2h0M219.8,86.2h0M227.9,86.2h0" stroke="#000" stroke-width="3.44" stroke-linecap="round"/>
<use href="#coast"/>
</g>
<rect x="0" y="0" width="286.39" height="88.12" fill="none" stroke="#000" stroke-width="1.1"/>
<path d="M0.00,88.12v4.8M44.06,88.12v4.8M88.12,88.12v4.8M132.18,88.12v4.8M176.24,88.12v4.8M220.30,88.12v4.8M264.36,88.12v4.8M0,88.12h-4.8M0,66.09h-4.8M0,44.06h-4.8M0,22.03h-4.8M0,0.00h-4.8" stroke="#000" stroke-width="1.1" fill="none"/>
<text x="0.00" y="108.52" font-size="13.92" text-anchor="middle" textLength="15.45" lengthAdjust="spacingAndGlyphs">0°</text>
<text x="44.06" y="108.52" font-size="13.92" text-anchor="middle" textLength="32.70" lengthAdjust="spacingAndGlyphs">20°E</text>
<text x="88.12" y="108.52" font-size="13.92" text-anchor="middle" textLength="32.70" lengthAdjust="spacingAndGlyphs">40°E</text>
<text x="132.18" y="108.52" font-size="13.92" text-anchor="middle" textLength="32.70" lengthAdjust="spacingAndGlyphs">60°E</text>
<text x="176.24" y="108.52" font-size="13.92" text-anchor="middle" textLength="32.70" lengthAdjust="spacingAndGlyphs">80°E</text>
<text x="220.30" y="108.52" font-size="13.92" text-anchor="middle" textLength="41.35" lengthAdjust="spacingAndGlyphs">100°E</text>
<text x="264.36" y="108.52" font-size="13.92" text-anchor="middle" textLength="41.35" lengthAdjust="spacingAndGlyphs">120°E</text>
<text x="-9.60" y="93.52" font-size="13.92" text-anchor="end" textLength="34.28" lengthAdjust="spacingAndGlyphs">30°N</text>
<text x="-9.60" y="71.49" font-size="13.92" text-anchor="end" textLength="34.28" lengthAdjust="spacingAndGlyphs">40°N</text>
<text x="-9.60" y="49.46" font-size="13.92" text-anchor="end" textLength="34.28" lengthAdjust="spacingAndGlyphs">50°N</text>
<text x="-9.60" y="27.43" font-size="13.92" text-anchor="end" textLength="34.28" lengthAdjust="spacingAndGlyphs">60°N</text>
<text x="-9.60" y="5.40" font-size="13.92" text-anchor="end" textLength="34.28" lengthAdjust="spacingAndGlyphs">70°N</text>
<text x="0.40" y="-8.40" font-size="16.70" text-anchor="start" textLength="64.78" lengthAdjust="spacingAndGlyphs">(d) DHR</text>
</g>
<g transform="translate(397.6,48.5)">
<g clip-path="url(#pc)">
<path d="M192.5,81.5L199.4,82.0L208.2,80.9L218.1,78.5L230.2,74.3L242.3,68.8L254.4,62.1L266.6,54.4L275.7,47.4L284.7,38.6L290.8,29.8L290.8,-0.2L289.4,-2.2L287.1,-4.4L276.3,-4.4L274.3,-2.8L258.4,13.2L247.3,27.5L240.0,35.2L216.4,56.2L196.9,70.5L191.9,74.9L190.3,77.1L189.8,79.3L190.6,80.6ZM98.4,62.8L103.5,63.0L109.0,62.2L114.6,60.1L119.0,57.3L124.5,52.4L130.0,46.3L135.1,39.7L139.2,33.0L141.7,27.5L143.3,22.0L143.9,16.5L143.4,12.1L141.8,7.7L139.6,4.4L136.6,1.5L132.2,-1.3L123.8,-4.4L104.9,-4.4L102.4,-3.8L94.7,-0.7L88.4,3.3L82.9,8.8L79.3,14.3L76.8,20.9L75.9,28.6L76.8,38.6L79.2,48.5L82.2,54.0L85.9,57.7L91.4,60.9Z" fill="#fde0e0" fill-rule="evenodd"/><path d="M204.2,73.8L208.2,74.7L214.7,73.8L222.5,71.6L230.9,68.3L240.0,63.9L248.9,58.7L257.5,52.9L264.4,47.4L272.0,39.7L283.1,25.0L285.3,21.3L286.9,16.5L287.3,12.1L286.5,7.7L284.5,4.4L282.0,3.0L278.7,4.1L275.7,7.7L271.4,17.6L268.8,21.1L240.1,42.5L208.7,67.2L204.3,71.6L203.9,72.7ZM98.8,56.2L102.4,56.7L106.8,56.4L111.3,55.1L115.5,52.9L124.5,44.9L132.2,35.2L134.4,30.8L135.9,26.4L136.4,22.0L136.2,18.7L135.2,15.4L133.3,12.1L131.1,9.6L127.8,7.2L123.4,5.1L117.9,3.8L112.4,3.5L106.8,4.3L101.3,6.1L96.5,8.8L92.5,12.1L89.0,16.5L86.6,22.0L85.6,27.5L85.9,34.1L87.6,45.2L89.2,49.3L91.4,52.2L94.7,54.7Z" fill="#fcb4a0" fill-rule="evenodd"/><path d="M239.4,54.0L240.1,54.2L242.5,52.9L243.9,51.8L243.4,50.9ZM243.8,50.7L244.5,51.0L244.9,50.7L244.5,50.5ZM102.4,49.6L107.9,49.2L113.5,46.3L122.3,38.4L127.0,31.9L128.9,26.4L128.6,20.9L126.2,16.5L122.3,13.3L119.0,11.9L114.6,11.1L110.2,11.3L106.8,12.0L100.5,15.4L98.0,17.8L95.9,20.9L94.7,24.2L94.1,28.6L95.9,41.9L98.0,46.9L99.8,48.5Z" fill="#fb8a6a" fill-rule="evenodd"/><path d="M107.5,33.0L110.1,34.0L112.4,33.7L114.6,32.6L116.8,30.7L118.1,28.6L118.6,26.4L118.3,24.2L116.8,22.1L114.6,21.0L111.3,20.8L109.0,21.5L106.8,23.1L105.5,25.3L105.1,28.6L105.7,30.9Z" fill="#fb6248" fill-rule="evenodd"/><path d="M134.2,87.0L139.9,87.5L146.5,86.8L153.1,85.2L161.9,81.9L172.9,76.4L187.3,68.1L197.0,61.7L203.8,56.2L211.3,48.5L221.4,36.3L226.1,29.7L228.9,24.2L230.6,17.6L230.4,12.1L228.6,6.6L225.8,2.7L220.3,-1.7L213.6,-4.4L195.6,-4.4L187.3,-1.9L179.5,1.6L171.8,6.2L166.3,10.5L161.9,15.1L157.5,20.8L145.7,38.6L130.4,59.5L125.5,68.3L123.8,74.9L124.8,80.4L126.2,82.6L128.6,84.8ZM15.6,47.4L19.8,47.8L24.2,47.3L28.6,45.8L31.7,44.1L34.4,41.9L37.1,38.6L38.9,35.2L40.3,30.8L40.7,26.4L40.3,22.0L39.4,18.7L37.5,14.7L35.2,11.8L31.9,8.9L28.6,7.0L24.2,5.5L19.8,5.1L15.4,5.5L11.0,7.0L7.8,8.8L5.1,11.0L2.2,14.4L0.4,17.6L-1.1,22.0L-1.5,26.4L-1.1,30.8L0.4,35.2L2.2,38.5L5.1,41.9L7.8,44.1L11.9,46.3Z" fill="#daf2fa" fill-rule="evenodd"/><path d="M137.7,79.3L142.1,80.2L148.7,79.8L155.3,78.3L163.0,75.7L181.7,66.9L189.5,62.1L196.1,57.1L201.6,51.8L206.3,46.3L218.0,30.8L221.5,25.3L223.5,19.8L223.8,15.4L222.7,11.0L220.6,7.7L216.7,4.4L211.5,2.2L206.0,1.3L199.4,1.8L192.8,3.7L184.0,7.6L175.1,12.5L167.4,18.2L161.9,23.5L155.3,31.6L140.2,51.8L134.1,61.7L132.1,67.2L131.8,72.7L132.5,74.9L134.1,77.1Z" fill="#a9dde8" fill-rule="evenodd"/><path d="M142.2,73.8L146.5,74.6L150.9,74.4L163.0,71.0L179.5,63.3L185.7,59.5L191.5,55.1L199.9,46.3L215.9,24.2L217.4,20.9L217.9,17.6L217.5,14.3L215.6,11.0L212.6,8.5L208.2,6.9L203.8,6.6L198.3,7.5L191.7,10.0L180.6,15.7L172.9,20.4L167.4,24.6L160.8,31.1L153.1,40.2L145.1,50.7L140.3,58.4L138.1,63.9L137.8,68.3L139.2,71.6Z" fill="#7cc4d6" fill-rule="evenodd"/><path d="M146.2,68.3L148.7,69.2L153.1,69.2L163.0,66.5L176.2,60.3L187.0,52.9L194.4,45.2L202.7,32.4L209.6,23.1L211.1,18.7L210.8,16.5L209.4,14.3L207.1,13.0L203.8,12.4L197.2,13.8L177.3,23.4L167.4,30.3L161.9,35.5L155.3,42.8L146.4,55.1L144.4,59.5L143.6,62.8L144.1,66.1Z" fill="#5ba3d3" fill-rule="evenodd"/><path d="M161.9,52.9L163.0,53.6L166.3,53.2L173.2,49.6L178.6,44.1L179.5,41.9L179.2,39.7L177.3,38.8L175.1,39.2L171.8,40.7L168.6,43.0L163.4,48.5L162.1,50.7Z" fill="#4292c6" fill-rule="evenodd"/><path d="M9.0,2.5h0M17.2,2.5h0M25.4,2.5h0M33.6,2.5h0M41.8,2.5h0M50.0,2.5h0M82.7,2.5h0M90.9,2.5h0M99.1,2.5h0M107.3,2.5h0M181.1,2.5h0M189.3,2.5h0M197.5,2.5h0M205.7,2.5h0M213.9,2.5h0M222.1,2.5h0M230.3,2.5h0M263.1,2.5h0M271.3,2.5h0M279.4,2.5h0M4.9,10.6h0M13.1,10.6h0M21.3,10.6h0M29.5,10.6h0M37.7,10.6h0M78.6,10.6h0M86.8,10.6h0M95.0,10.6h0M103.2,10.6h0M111.4,10.6h0M119.6,10.6h0M127.8,10.6h0M136.0,10.6h0M144.2,10.6h0M168.8,10.6h0M177.0,10.6h0M185.2,10.6h0M193.4,10.6h0M201.6,10.6h0M209.8,10.6h0M218.0,10.6h0M226.2,10.6h0M259.0,10.6h0M267.2,10.6h0M275.4,10.6h0M283.5,10.6h0M0.8,18.8h0M9.0,18.8h0M17.2,18.8h0M25.4,18.8h0M33.6,18.8h0M41.8,18.8h0M50.0,18.8h0M74.6,18.8h0M82.7,18.8h0M90.9,18.8h0M99.1,18.8h0M107.3,18.8h0M115.5,18.8h0M123.7,18.8h0M131.9,18.8h0M140.1,18.8h0M164.7,18.8h0M172.9,18.8h0M181.1,18.8h0M189.3,18.8h0M197.5,18.8h0M205.7,18.8h0M213.9,18.8h0M222.1,18.8h0M230.3,18.8h0M246.7,18.8h0M254.9,18.8h0M263.1,18.8h0M271.3,18.8h0M279.4,18.8h0M4.9,27.0h0M13.1,27.0h0M21.3,27.0h0M29.5,27.0h0M37.7,27.0h0M45.9,27.0h0M54.1,27.0h0M70.5,27.0h0M78.6,27.0h0M86.8,27.0h0M95.0,27.0h0M103.2,27.0h0M111.4,27.0h0M119.6,27.0h0M127.8,27.0h0M136.0,27.0h0M160.6,27.0h0M168.8,27.0h0M177.0,27.0h0M185.2,27.0h0M193.4,27.0h0M201.6,27.0h0M209.8,27.0h0M218.0,27.0h0M226.2,27.0h0M242.6,27.0h0M250.8,27.0h0M259.0,27.0h0M267.2,27.0h0M275.4,27.0h0M283.5,27.0h0M9.0,35.2h0M33.6,35.2h0M41.8,35.2h0M50.0,35.2h0M66.4,35.2h0M74.6,35.2h0M82.7,35.2h0M90.9,35.2h0M99.1,35.2h0M107.3,35.2h0M115.5,35.2h0M123.7,35.2h0M131.9,35.2h0M148.3,35.2h0M156.5,35.2h0M164.7,35.2h0M172.9,35.2h0M181.1,35.2h0M189.3,35.2h0M197.5,35.2h0M205.7,35.2h0M213.9,35.2h0M222.1,35.2h0M238.5,35.2h0M246.7,35.2h0M254.9,35.2h0M263.1,35.2h0M271.3,35.2h0M279.4,35.2h0M13.1,43.4h0M21.3,43.4h0M29.5,43.4h0M37.7,43.4h0M45.9,43.4h0M70.5,43.4h0M78.6,43.4h0M86.8,43.4h0M95.0,43.4h0M103.2,43.4h0M111.4,43.4h0M119.6,43.4h0M127.8,43.4h0M144.2,43.4h0M152.4,43.4h0M160.6,43.4h0M168.8,43.4h0M177.0,43.4h0M185.2,43.4h0M193.4,43.4h0M201.6,43.4h0M209.8,43.4h0M226.2,43.4h0M234.4,43.4h0M242.6,43.4h0M250.8,43.4h0M259.0,43.4h0M267.2,43.4h0M275.4,43.4h0M283.5,43.4h0M25.4,51.6h0M33.6,51.6h0M41.8,51.6h0M50.0,51.6h0M82.7,51.6h0M90.9,51.6h0M99.1,51.6h0M115.5,51.6h0M131.9,51.6h0M140.1,51.6h0M148.3,51.6h0M156.5,51.6h0M164.7,51.6h0M172.9,51.6h0M181.1,51.6h0M189.3,51.6h0M197.5,51.6h0M213.9,51.6h0M222.1,51.6h0M230.3,51.6h0M238.5,51.6h0M246.7,51.6h0M254.9,51.6h0M263.1,51.6h0M271.3,51.6h0M279.4,51.6h0M45.9,59.8h0M70.5,59.8h0M78.6,59.8h0M86.8,59.8h0M95.0,59.8h0M127.8,59.8h0M136.0,59.8h0M144.2,59.8h0M152.4,59.8h0M160.6,59.8h0M168.8,59.8h0M177.0,59.8h0M185.2,59.8h0M193.4,59.8h0M201.6,59.8h0M218.0,59.8h0M226.2,59.8h0M234.4,59.8h0M242.6,59.8h0M250.8,59.8h0M259.0,59.8h0M267.2,59.8h0M74.6,68.0h0M82.7,68.0h0M90.9,68.0h0M131.9,68.0h0M140.1,68.0h0M148.3,68.0h0M156.5,68.0h0M164.7,68.0h0M172.9,68.0h0M181.1,68.0h0M197.5,68.0h0M205.7,68.0h0M213.9,68.0h0M222.1,68.0h0M230.3,68.0h0M238.5,68.0h0M246.7,68.0h0M86.8,76.2h0M95.0,76.2h0M127.8,76.2h0M136.0,76.2h0M144.2,76.2h0M152.4,76.2h0M160.6,76.2h0M168.8,76.2h0M177.0,76.2h0M185.2,76.2h0M193.4,76.2h0M201.6,76.2h0M209.8,76.2h0M218.0,76.2h0M226.2,76.2h0M234.4,76.2h0M242.6,76.2h0M115.5,84.4h0M123.7,84.4h0M131.9,84.4h0M140.1,84.4h0M148.3,84.4h0M156.5,84.4h0M164.7,84.4h0M189.3,84.4h0M197.5,84.4h0M205.7,84.4h0M213.9,84.4h0M222.1,84.4h0M230.3,84.4h0M238.5,84.4h0" stroke="#000" stroke-width="3.44" stroke-linecap="round"/>
<use href="#coast"/>
</g>
<rect x="0" y="0" width="286.74" height="88.12" fill="none" stroke="#000" stroke-width="1.1"/>
<path d="M0.00,88.12v4.8M44.06,88.12v4.8M88.12,88.12v4.8M132.18,88.12v4.8M176.24,88.12v4.8M220.30,88.12v4.8M264.36,88.12v4.8M0,88.12h-4.8M0,66.09h-4.8M0,44.06h-4.8M0,22.03h-4.8M0,0.00h-4.8" stroke="#000" stroke-width="1.1" fill="none"/>
<text x="0.00" y="108.52" font-size="13.92" text-anchor="middle" textLength="15.45" lengthAdjust="spacingAndGlyphs">0°</text>
<text x="44.06" y="108.52" font-size="13.92" text-anchor="middle" textLength="32.70" lengthAdjust="spacingAndGlyphs">20°E</text>
<text x="88.12" y="108.52" font-size="13.92" text-anchor="middle" textLength="32.70" lengthAdjust="spacingAndGlyphs">40°E</text>
<text x="132.18" y="108.52" font-size="13.92" text-anchor="middle" textLength="32.70" lengthAdjust="spacingAndGlyphs">60°E</text>
<text x="176.24" y="108.52" font-size="13.92" text-anchor="middle" textLength="32.70" lengthAdjust="spacingAndGlyphs">80°E</text>
<text x="220.30" y="108.52" font-size="13.92" text-anchor="middle" textLength="41.35" lengthAdjust="spacingAndGlyphs">100°E</text>
<text x="264.36" y="108.52" font-size="13.92" text-anchor="middle" textLength="41.35" lengthAdjust="spacingAndGlyphs">120°E</text>
<text x="-9.60" y="93.52" font-size="13.92" text-anchor="end" textLength="34.28" lengthAdjust="spacingAndGlyphs">30°N</text>
<text x="-9.60" y="71.49" font-size="13.92" text-anchor="end" textLength="34.28" lengthAdjust="spacingAndGlyphs">40°N</text>
<text x="-9.60" y="49.46" font-size="13.92" text-anchor="end" textLength="34.28" lengthAdjust="spacingAndGlyphs">50°N</text>
<text x="-9.60" y="27.43" font-size="13.92" text-anchor="end" textLength="34.28" lengthAdjust="spacingAndGlyphs">60°N</text>
<text x="-9.60" y="5.40" font-size="13.92" text-anchor="end" textLength="34.28" lengthAdjust="spacingAndGlyphs">70°N</text>
<text x="0.40" y="-8.40" font-size="16.70" text-anchor="start" textLength="60.00" lengthAdjust="spacingAndGlyphs">(e) TCR</text>
</g>
<g transform="translate(397.6,198.2)">
<g clip-path="url(#pc)">
<path d="M61.3,69.4L62.8,70.1L65.0,70.0L66.1,69.4L66.8,68.3L66.5,67.2L65.0,66.2L62.8,66.2L61.1,67.2L60.7,68.3ZM213.5,67.2L221.4,67.3L231.3,65.8L242.3,63.1L250.0,60.0L256.9,55.1L265.2,45.2L267.6,40.8L267.3,37.5L265.5,35.1L261.1,32.4L255.5,30.6L250.0,29.6L243.4,29.2L236.8,29.7L231.3,30.9L226.9,32.7L222.5,35.9L215.1,44.1L203.8,50.7L200.4,54.0L200.6,56.2L207.1,64.4L210.4,66.5ZM70.0,48.5L80.4,48.6L91.4,47.0L101.3,43.6L111.3,38.2L121.2,30.5L127.5,23.1L129.0,19.8L129.7,16.5L129.4,13.2L128.0,9.9L123.4,5.2L116.8,1.8L107.9,-0.6L96.9,-1.7L84.8,-1.2L72.7,0.8L61.7,4.1L54.0,8.0L47.6,13.2L44.1,17.6L43.0,20.9L43.9,25.3L50.7,39.0L53.9,43.0L57.1,45.2L60.6,46.6ZM186.1,45.2L189.1,45.2L189.9,44.1L188.4,43.4L186.2,43.5L185.2,44.1ZM242.5,9.9L257.8,10.9L276.5,10.3L282.0,9.3L286.4,7.7L289.3,5.5L289.6,3.3L287.6,1.1L283.1,-0.9L277.6,-2.0L271.0,-2.4L263.3,-1.8L242.3,1.1L236.8,2.5L233.6,4.4L233.2,5.5L233.7,6.6L235.1,7.7Z" fill="#fde0e0" fill-rule="evenodd"/><path d="M211.1,62.8L214.8,63.5L220.3,63.2L239.0,59.8L246.2,57.3L249.2,55.1L251.5,51.8L252.7,45.2L254.7,40.8L254.6,38.6L253.3,37.0L251.1,35.7L244.5,34.3L237.9,34.5L231.3,36.4L220.0,45.2L208.0,50.7L203.8,54.0L203.3,56.2L204.5,58.4L207.1,60.9ZM81.9,40.8L90.3,40.8L98.0,39.3L105.7,36.4L113.1,31.9L119.0,26.9L122.4,22.0L123.4,18.7L123.4,16.5L121.5,12.1L117.8,8.8L112.4,6.3L105.7,4.7L96.9,4.2L88.1,5.0L80.4,6.9L73.1,9.9L67.7,13.2L64.1,16.5L61.2,20.9L60.5,25.3L61.7,29.7L65.0,34.0L69.4,37.1L74.9,39.4ZM265.5,7.7L272.1,8.0L278.7,7.1L282.3,5.5L283.3,4.4L283.4,3.3L282.6,2.2L279.8,0.7L275.4,-0.2L271.0,-0.3L262.4,1.1L259.7,2.2L257.4,4.4L258.0,5.5L260.2,6.6Z" fill="#fcb4a0" fill-rule="evenodd"/><path d="M210.4,60.6L213.7,61.3L218.1,61.3L226.9,59.2L240.1,57.3L243.4,55.9L246.0,54.0L247.2,51.8L247.2,49.6L245.3,46.3L241.2,43.4L236.8,42.7L231.3,43.5L208.0,52.9L206.1,55.1L206.2,57.3L208.2,59.4ZM85.2,35.2L91.4,35.8L96.9,35.2L102.4,33.5L107.9,30.6L112.4,27.4L116.0,23.1L117.4,18.7L116.5,15.4L114.6,13.1L110.1,10.5L105.7,9.2L100.2,8.6L94.7,8.8L89.2,9.8L83.7,11.7L79.3,14.0L76.2,16.5L73.7,19.8L72.6,23.1L72.8,26.4L74.7,29.7L77.1,31.9L81.3,34.1ZM268.2,5.5L275.3,5.5L277.8,4.4L278.1,3.3L276.7,2.2L274.3,1.7L268.8,1.9L265.7,3.3L265.8,4.4Z" fill="#fb8a6a" fill-rule="evenodd"/><path d="M213.0,59.5L217.0,59.6L225.8,57.2L237.9,56.0L242.4,54.0L243.4,52.9L243.9,50.7L242.3,48.2L239.0,46.5L234.6,45.9L229.1,46.9L221.4,50.3L213.7,52.2L210.0,54.0L209.0,55.1L209.0,57.3L210.4,58.5ZM91.8,31.9L95.8,31.8L99.1,31.0L103.5,28.8L106.7,26.4L109.6,23.1L110.5,20.9L110.5,18.7L109.3,16.5L104.6,13.8L96.9,13.0L89.2,14.6L84.1,17.6L82.3,19.8L81.3,22.0L81.2,24.2L81.9,26.4L83.6,28.6L85.9,30.3Z" fill="#fb6248" fill-rule="evenodd"/><path d="M233.1,51.8L233.5,51.9L234.6,51.8L233.5,51.6ZM92.6,25.3L94.7,25.5L95.8,25.1L97.0,23.1L96.2,22.0L94.7,21.5L92.4,22.0L91.5,23.1L91.5,24.2Z" fill="#ef3b2c" fill-rule="evenodd"/><path d="M128.7,85.9L137.7,85.8L144.3,84.0L148.3,81.5L152.1,76.0L164.8,69.4L168.8,68.3L182.8,66.1L195.0,65.1L198.3,64.1L200.0,62.8L200.4,61.7L199.4,59.5L195.0,57.1L190.6,56.6L182.8,57.5L180.6,57.0L180.0,56.2L180.6,55.1L188.6,49.6L187.9,48.5L182.8,46.7L181.4,45.2L181.4,44.1L182.2,43.0L184.0,42.1L188.4,41.5L193.9,43.0L197.2,45.7L201.6,44.5L205.8,41.9L209.3,38.6L217.5,27.5L219.9,22.0L219.9,16.5L218.5,13.2L213.8,5.5L210.7,-2.2L208.9,-4.4L188.7,-4.4L176.5,2.2L160.8,7.2L154.2,10.3L147.6,15.6L137.7,26.4L119.0,45.2L113.8,52.9L112.2,57.3L111.2,62.8L110.2,63.9L104.6,65.1L95.8,64.2L90.3,64.7L87.0,66.0L83.3,68.3L80.6,70.5L80.2,71.6L80.7,72.7L82.3,73.8L88.1,75.8L93.6,76.7L112.7,78.2L115.1,79.3L118.4,82.6L121.2,84.2ZM2.7,60.6L7.7,61.3L11.0,61.0L14.6,59.5L16.1,57.3L15.8,56.2L14.3,54.9L11.0,53.5L8.8,53.2L2.2,54.0L-1.0,55.1L-2.5,56.2L-2.9,57.3L-2.4,58.4L-0.8,59.5ZM10.1,39.7L14.3,39.6L18.3,38.6L20.7,36.3L20.3,34.1L16.9,31.9L12.1,31.1L6.4,31.9L3.1,34.1L3.0,36.3L3.9,37.5L6.6,38.9ZM9.9,8.8L12.4,8.8L15.4,7.9L16.7,6.6L16.5,5.5L14.3,4.3L11.0,4.0L8.3,4.4L6.3,5.5L5.9,6.6L6.6,7.7Z" fill="#daf2fa" fill-rule="evenodd"/><path d="M125.5,83.7L130.0,84.5L135.5,84.5L139.9,83.5L143.2,81.8L144.6,80.4L145.0,78.2L142.4,73.8L142.5,72.7L146.5,69.4L150.9,67.7L158.6,66.2L182.8,63.7L192.8,64.1L197.5,62.8L198.4,61.7L198.3,60.6L197.2,59.4L193.9,58.2L189.5,58.4L182.8,60.8L180.6,60.9L172.4,59.5L169.2,58.4L168.2,57.3L169.6,55.1L178.4,48.5L179.0,47.4L179.1,44.1L181.5,41.9L187.3,40.5L196.1,41.4L199.4,41.0L204.9,37.6L209.3,32.8L213.4,25.3L214.4,18.7L213.8,15.4L212.3,12.1L207.1,5.2L203.8,2.4L201.6,1.4L198.3,0.9L195.0,1.5L190.6,3.3L177.3,10.6L159.7,17.1L150.9,22.1L133.3,36.5L127.8,41.9L124.2,46.3L121.7,50.7L120.2,55.1L120.0,58.4L120.9,63.9L120.3,65.0L117.2,66.1L105.7,67.0L95.8,65.4L92.5,65.4L87.5,67.2L84.5,70.5L84.5,71.6L85.9,73.1L91.4,75.0L114.6,76.3L117.9,76.9L121.0,81.5ZM6.3,59.5L8.8,59.8L11.0,59.3L12.4,58.4L12.8,57.3L12.4,56.2L11.0,55.2L8.8,54.7L5.5,55.4L4.2,56.2L3.6,57.3L4.2,58.4Z" fill="#a9dde8" fill-rule="evenodd"/><path d="M125.5,82.6L131.1,83.7L137.7,83.1L139.9,82.2L142.1,80.6L142.7,79.3L142.6,78.2L140.7,76.0L135.1,72.7L134.2,69.4L132.2,67.7L104.6,68.1L93.6,66.2L89.2,67.3L87.8,68.3L86.5,70.5L86.8,71.6L87.9,72.7L92.5,74.3L120.1,75.4L121.5,76.0L122.2,80.4ZM132.0,66.1L133.3,66.8L136.6,66.7L161.1,62.8L162.4,61.7L159.0,59.5L158.7,58.4L159.2,57.3L177.3,41.8L182.8,39.3L196.1,37.5L201.6,35.1L206.0,30.8L208.1,27.5L209.3,24.2L209.8,20.9L209.5,17.6L207.1,12.2L203.8,9.1L200.5,7.6L197.2,7.3L193.9,8.0L189.8,9.9L178.4,17.0L163.0,22.5L156.4,25.5L141.0,35.2L135.5,39.5L130.9,44.1L127.7,48.5L125.8,52.9L125.4,57.3L126.3,60.6L128.9,63.8ZM191.0,62.8L195.0,62.3L196.0,61.7L196.1,60.6L192.8,59.4L188.7,60.6L188.2,61.7ZM7.1,58.4L9.9,58.5L11.0,57.3L9.9,56.1L7.7,56.0L6.2,57.3Z" fill="#7cc4d6" fill-rule="evenodd"/><path d="M128.5,82.6L133.3,83.0L137.7,82.2L140.5,80.4L140.8,78.2L138.8,76.4L136.6,75.4L132.2,74.4L127.8,74.4L124.5,76.5L123.4,79.3L125.3,81.5ZM104.2,73.8L112.4,74.0L122.3,73.4L125.6,72.7L126.5,71.6L125.4,70.5L121.2,69.5L103.5,69.1L94.7,66.8L90.3,67.7L88.3,69.4L88.0,70.5L89.2,72.2L92.5,73.5ZM134.6,61.7L137.7,62.5L142.1,62.5L146.1,61.7L148.7,60.5L158.6,51.8L171.8,38.3L178.4,32.5L182.8,31.4L193.9,32.3L199.4,30.7L202.7,27.7L204.4,24.2L204.8,19.8L203.8,16.5L201.8,14.3L199.4,13.2L195.0,13.5L189.9,16.5L181.7,24.7L178.4,27.0L167.4,28.6L159.7,30.8L149.8,34.8L141.0,39.7L134.4,45.3L132.0,48.5L130.4,51.8L129.9,55.1L130.3,57.3L132.2,60.1Z" fill="#5ba3d3" fill-rule="evenodd"/><path d="M129.7,81.5L134.7,81.5L137.4,80.4L138.1,79.3L137.7,78.2L135.5,76.9L132.2,76.4L128.9,76.8L126.7,78.1L126.3,79.3L127.0,80.4ZM91.7,71.6L93.6,72.2L96.9,72.1L99.1,71.6L99.6,70.5L96.9,68.7L93.6,68.1L90.8,69.4L90.6,70.5Z" fill="#4292c6" fill-rule="evenodd"/><path d="M128.8,80.4L133.3,81.0L135.6,80.4L136.6,79.3L136.0,78.2L134.4,77.5L131.1,77.2L128.3,78.2L127.8,79.3ZM92.2,70.5L94.7,71.4L97.1,70.5L96.2,69.4L94.7,69.0L92.5,69.4Z" fill="#2171b5" fill-rule="evenodd"/><path d="M129.7,79.3L132.2,80.2L134.6,79.3L133.4,78.2L132.2,78.1L131.0,78.2Z" fill="#08519c" fill-rule="evenodd"/><path d="M197.5,0.3h0M205.7,0.3h0M213.9,0.3h0M238.5,0.3h0M246.7,0.3h0M254.9,0.3h0M263.1,0.3h0M271.3,0.3h0M279.4,0.3h0M4.9,8.5h0M13.1,8.5h0M21.3,8.5h0M37.7,8.5h0M45.9,8.5h0M54.1,8.5h0M62.3,8.5h0M70.5,8.5h0M78.6,8.5h0M86.8,8.5h0M95.0,8.5h0M103.2,8.5h0M111.4,8.5h0M119.6,8.5h0M127.8,8.5h0M136.0,8.5h0M168.8,8.5h0M177.0,8.5h0M185.2,8.5h0M193.4,8.5h0M201.6,8.5h0M242.6,8.5h0M250.8,8.5h0M259.0,8.5h0M267.2,8.5h0M275.4,8.5h0M0.8,16.7h0M50.0,16.7h0M58.2,16.7h0M66.4,16.7h0M74.6,16.7h0M82.7,16.7h0M90.9,16.7h0M99.1,16.7h0M107.3,16.7h0M115.5,16.7h0M123.7,16.7h0M131.9,16.7h0M148.3,16.7h0M156.5,16.7h0M164.7,16.7h0M172.9,16.7h0M181.1,16.7h0M189.3,16.7h0M197.5,16.7h0M205.7,16.7h0M238.5,16.7h0M246.7,16.7h0M254.9,16.7h0M263.1,16.7h0M271.3,16.7h0M37.7,24.9h0M62.3,24.9h0M70.5,24.9h0M78.6,24.9h0M86.8,24.9h0M95.0,24.9h0M103.2,24.9h0M111.4,24.9h0M119.6,24.9h0M144.2,24.9h0M152.4,24.9h0M160.6,24.9h0M168.8,24.9h0M177.0,24.9h0M185.2,24.9h0M193.4,24.9h0M201.6,24.9h0M209.8,24.9h0M234.4,24.9h0M250.8,24.9h0M9.0,33.1h0M17.2,33.1h0M66.4,33.1h0M74.6,33.1h0M82.7,33.1h0M90.9,33.1h0M99.1,33.1h0M107.3,33.1h0M115.5,33.1h0M140.1,33.1h0M148.3,33.1h0M156.5,33.1h0M164.7,33.1h0M172.9,33.1h0M181.1,33.1h0M189.3,33.1h0M197.5,33.1h0M230.3,33.1h0M238.5,33.1h0M246.7,33.1h0M254.9,33.1h0M263.1,33.1h0M21.3,41.3h0M29.5,41.3h0M37.7,41.3h0M62.3,41.3h0M70.5,41.3h0M78.6,41.3h0M86.8,41.3h0M95.0,41.3h0M103.2,41.3h0M127.8,41.3h0M136.0,41.3h0M144.2,41.3h0M152.4,41.3h0M160.6,41.3h0M168.8,41.3h0M193.4,41.3h0M201.6,41.3h0M218.0,41.3h0M226.2,41.3h0M234.4,41.3h0M242.6,41.3h0M250.8,41.3h0M259.0,41.3h0M275.4,41.3h0M17.2,49.5h0M33.6,49.5h0M66.4,49.5h0M74.6,49.5h0M82.7,49.5h0M90.9,49.5h0M99.1,49.5h0M123.7,49.5h0M131.9,49.5h0M140.1,49.5h0M148.3,49.5h0M156.5,49.5h0M164.7,49.5h0M181.1,49.5h0M197.5,49.5h0M205.7,49.5h0M213.9,49.5h0M222.1,49.5h0M230.3,49.5h0M238.5,49.5h0M246.7,49.5h0M254.9,49.5h0M4.9,57.7h0M13.1,57.7h0M95.0,57.7h0M119.6,57.7h0M127.8,57.7h0M136.0,57.7h0M144.2,57.7h0M160.6,57.7h0M168.8,57.7h0M177.0,57.7h0M193.4,57.7h0M209.8,57.7h0M218.0,57.7h0M226.2,57.7h0M234.4,57.7h0M242.6,57.7h0M259.0,57.7h0M99.1,65.9h0M131.9,65.9h0M140.1,65.9h0M148.3,65.9h0M164.7,65.9h0M172.9,65.9h0M213.9,65.9h0M222.1,65.9h0M238.5,65.9h0M95.0,74.0h0M103.2,74.0h0M111.4,74.0h0M119.6,74.0h0M127.8,74.0h0M144.2,74.0h0M160.6,74.0h0M185.2,74.0h0M193.4,74.0h0M201.6,74.0h0M209.8,74.0h0M226.2,74.0h0M66.4,82.2h0M115.5,82.2h0M123.7,82.2h0M131.9,82.2h0M140.1,82.2h0M148.3,82.2h0M172.9,82.2h0M181.1,82.2h0M197.5,82.2h0M213.9,82.2h0M230.3,82.2h0" stroke="#000" stroke-width="3.44" stroke-linecap="round"/>
<use href="#coast"/>
</g>
<rect x="0" y="0" width="286.74" height="88.12" fill="none" stroke="#000" stroke-width="1.1"/>
<path d="M0.00,88.12v4.8M44.06,88.12v4.8M88.12,88.12v4.8M132.18,88.12v4.8M176.24,88.12v4.8M220.30,88.12v4.8M264.36,88.12v4.8M0,88.12h-4.8M0,66.09h-4.8M0,44.06h-4.8M0,22.03h-4.8M0,0.00h-4.8" stroke="#000" stroke-width="1.1" fill="none"/>
<text x="0.00" y="108.52" font-size="13.92" text-anchor="middle" textLength="15.45" lengthAdjust="spacingAndGlyphs">0°</text>
<text x="44.06" y="108.52" font-size="13.92" text-anchor="middle" textLength="32.70" lengthAdjust="spacingAndGlyphs">20°E</text>
<text x="88.12" y="108.52" font-size="13.92" text-anchor="middle" textLength="32.70" lengthAdjust="spacingAndGlyphs">40°E</text>
<text x="132.18" y="108.52" font-size="13.92" text-anchor="middle" textLength="32.70" lengthAdjust="spacingAndGlyphs">60°E</text>
<text x="176.24" y="108.52" font-size="13.92" text-anchor="middle" textLength="32.70" lengthAdjust="spacingAndGlyphs">80°E</text>
<text x="220.30" y="108.52" font-size="13.92" text-anchor="middle" textLength="41.35" lengthAdjust="spacingAndGlyphs">100°E</text>
<text x="264.36" y="108.52" font-size="13.92" text-anchor="middle" textLength="41.35" lengthAdjust="spacingAndGlyphs">120°E</text>
<text x="-9.60" y="93.52" font-size="13.92" text-anchor="end" textLength="34.28" lengthAdjust="spacingAndGlyphs">30°N</text>
<text x="-9.60" y="71.49" font-size="13.92" text-anchor="end" textLength="34.28" lengthAdjust="spacingAndGlyphs">40°N</text>
<text x="-9.60" y="49.46" font-size="13.92" text-anchor="end" textLength="34.28" lengthAdjust="spacingAndGlyphs">50°N</text>
<text x="-9.60" y="27.43" font-size="13.92" text-anchor="end" textLength="34.28" lengthAdjust="spacingAndGlyphs">60°N</text>
<text x="-9.60" y="5.40" font-size="13.92" text-anchor="end" textLength="34.28" lengthAdjust="spacingAndGlyphs">70°N</text>
<text x="0.40" y="-8.40" font-size="16.70" text-anchor="start" textLength="79.64" lengthAdjust="spacingAndGlyphs">(f) HTADV</text>
</g>
<g transform="translate(397.6,347.9)">
<g clip-path="url(#pc)">
<path d="M227.3,85.9L231.3,86.9L234.6,86.3L236.8,84.8L237.5,83.7L237.5,81.5L235.7,79.5L233.5,78.5L231.3,78.1L228.0,78.9L225.8,80.4L224.9,82.6L225.8,84.8ZM108.8,84.8L125.6,85.7L146.5,85.3L162.4,83.7L166.3,82.6L166.7,81.5L163.3,80.4L157.5,79.6L142.1,78.8L102.4,79.5L99.1,80.0L95.9,81.5L96.4,82.6L99.1,83.4ZM95.3,78.2L100.2,78.9L104.6,76.6L106.0,73.8L102.0,70.5L107.9,63.7L113.5,60.9L119.0,60.3L120.7,60.6L120.1,65.0L122.3,68.0L124.5,69.4L128.9,70.1L133.2,69.4L132.6,68.3L134.7,65.0L134.9,63.9L131.1,60.9L127.2,59.5L125.7,58.4L131.1,52.2L134.4,44.2L136.8,31.9L137.1,20.9L136.2,15.4L134.4,11.2L131.5,7.7L127.8,5.4L123.4,4.4L117.9,4.9L112.4,7.3L107.9,10.9L103.2,17.6L100.3,26.4L99.7,34.1L101.0,47.4L100.2,48.5L93.6,49.0L90.3,50.2L79.3,55.9L76.0,59.5L75.1,65.0L73.8,68.3L75.1,70.5L79.3,72.3L87.0,73.7L90.3,76.6ZM215.8,76.0L233.5,77.0L250.3,74.9L251.4,73.8L241.2,71.9L220.3,70.1L175.1,68.9L172.3,68.3L171.5,67.2L172.1,65.0L175.1,63.9L202.7,62.4L215.9,61.2L232.4,58.5L236.0,57.3L231.3,56.5L200.5,56.9L172.9,59.1L167.4,59.0L157.3,62.8L157.7,63.9L162.1,65.0L162.9,67.2L161.9,68.3L138.0,69.4L135.8,70.5L167.4,74.7L174.0,74.5ZM2.9,60.6L8.8,61.3L14.3,61.0L18.7,59.8L20.1,58.4L19.0,57.3L15.1,56.2L5.5,56.0L1.1,57.0L-0.5,58.4L0.1,59.5ZM198.1,49.6L203.8,50.3L209.3,49.4L211.5,48.5L212.8,47.4L213.5,45.2L214.8,44.8L232.4,45.0L243.4,43.4L248.3,41.9L250.1,40.8L250.8,39.7L250.0,38.4L247.8,37.0L243.3,35.2L260.0,34.6L271.0,33.2L278.9,30.8L280.9,29.6L282.1,27.5L280.7,25.3L277.6,23.7L272.1,22.1L265.5,21.0L250.0,20.5L242.3,21.2L236.8,22.3L230.3,25.3L229.1,26.9L229.0,28.6L231.3,30.9L239.0,34.3L210.4,36.9L198.3,39.0L196.8,39.7L196.4,40.8L199.2,43.0L195.5,45.2L194.5,46.3L194.4,47.4L195.4,48.5Z" fill="#fde0e0" fill-rule="evenodd"/><path d="M110.9,83.7L124.5,84.6L142.1,84.5L154.2,83.3L157.5,82.6L158.0,81.5L149.8,80.0L134.4,79.5L113.5,80.1L104.9,81.5L105.5,82.6ZM95.9,77.1L101.3,76.9L103.3,76.0L104.0,74.9L103.3,73.8L100.2,72.9L95.8,72.8L92.8,73.8L92.0,74.9L92.8,76.0ZM195.2,74.9L231.3,75.6L239.3,74.9L242.6,73.8L236.8,72.4L222.5,70.9L203.8,69.9L174.0,69.3L171.8,68.7L170.7,67.2L171.3,65.0L174.0,63.7L210.4,61.2L220.3,59.7L224.9,58.4L217.0,57.6L198.3,57.5L174.0,59.5L167.4,59.4L159.7,62.8L163.2,65.0L163.8,67.2L163.0,68.6L160.8,69.3L150.0,70.5L152.6,71.6L167.4,73.9ZM83.5,70.5L89.2,70.8L93.5,69.4L94.3,68.3L94.1,67.2L91.8,63.9L92.6,62.8L96.9,60.5L99.3,58.4L100.2,55.1L99.0,52.9L96.9,51.6L93.6,51.4L91.4,52.3L89.6,54.0L86.4,63.9L81.5,67.1L80.6,68.3L81.0,69.4ZM126.1,67.2L127.8,67.5L130.0,66.9L131.7,65.0L131.4,63.9L128.9,62.5L125.5,62.8L124.1,63.9L123.8,65.0L124.3,66.1ZM5.3,59.5L12.1,59.9L14.3,59.5L15.6,58.4L13.2,57.2L7.7,57.0L5.9,57.3L4.0,58.4ZM111.1,48.5L113.5,49.3L116.8,49.3L120.8,47.4L122.4,45.2L122.9,43.0L122.3,40.8L121.2,39.0L119.0,37.5L116.8,37.0L112.4,37.9L110.1,39.2L108.1,41.9L107.8,44.1L108.5,46.3ZM197.2,48.5L201.6,49.5L207.1,49.2L210.7,47.4L211.0,46.3L208.9,44.1L209.3,43.8L212.6,43.4L226.9,44.0L234.6,43.6L242.4,41.9L244.2,40.8L244.3,39.7L240.1,37.8L230.2,36.7L218.1,37.0L203.4,38.6L199.5,39.7L199.3,40.8L204.4,43.0L197.0,45.2L195.8,46.3L195.8,47.4ZM245.8,30.8L252.2,31.3L258.9,30.7L263.3,29.6L265.0,28.6L265.3,27.5L264.2,26.4L260.9,25.3L252.2,24.5L243.4,25.3L240.1,26.4L238.9,27.5L239.2,28.6L241.0,29.7Z" fill="#fcb4a0" fill-rule="evenodd"/><path d="M121.4,83.7L142.1,83.7L150.5,82.6L151.1,81.5L144.3,80.4L132.2,80.0L119.3,80.4L112.0,81.5L112.6,82.6ZM95.7,76.0L100.2,76.2L101.9,74.9L100.2,74.0L96.9,74.0L94.7,74.9ZM210.2,74.9L229.1,74.9L236.5,73.8L232.4,72.5L217.0,71.0L198.3,70.1L174.0,69.7L170.7,68.6L170.0,67.2L170.6,65.0L172.9,63.5L208.2,61.0L217.8,59.5L219.1,58.4L211.5,57.8L197.2,57.8L174.0,59.8L166.3,59.9L162.5,61.7L161.4,62.8L163.9,65.0L164.6,67.2L164.3,68.3L161.9,69.8L158.1,70.5L158.8,71.6L167.4,73.4ZM126.3,65.0L127.8,65.7L129.2,65.0L127.8,64.0ZM93.8,58.4L95.8,58.2L98.0,56.2L97.6,54.0L95.8,52.9L93.6,52.9L91.8,54.0L91.2,55.1L91.7,57.3ZM198.9,48.5L202.7,49.1L206.0,48.8L209.2,47.4L209.4,46.3L208.2,45.1L206.0,44.4L200.5,44.5L197.0,46.3L197.0,47.4ZM112.4,46.3L114.6,46.9L117.3,46.3L118.5,45.2L118.7,43.0L117.9,41.8L115.7,40.8L112.4,41.5L111.0,43.0L110.9,44.1ZM217.7,43.0L225.8,43.3L233.5,42.8L238.2,41.9L240.3,40.8L240.2,39.7L234.6,38.0L225.8,37.4L212.6,38.1L203.1,39.7L203.0,40.8L206.0,41.6ZM248.4,28.6L254.4,28.7L255.5,27.5L251.1,27.0L247.6,27.5Z" fill="#fb8a6a" fill-rule="evenodd"/><path d="M120.1,82.6L136.6,83.1L143.1,82.6L144.1,81.5L135.5,80.8L126.7,80.8L119.1,81.5ZM186.4,73.8L212.6,74.6L230.8,73.8L228.7,72.7L213.7,71.2L172.9,70.0L170.8,69.4L169.5,68.3L169.3,67.2L170.0,65.0L172.9,63.2L206.0,60.9L214.7,59.5L214.3,58.4L199.4,58.0L174.0,60.2L167.4,59.9L163.3,61.7L162.5,62.8L164.6,65.0L165.3,67.2L165.2,68.3L164.1,69.4L162.1,70.5L162.2,71.6L167.4,73.0ZM93.9,56.2L95.3,56.2L95.9,55.1L94.7,54.5L93.6,54.9ZM201.4,48.5L206.0,48.1L207.7,47.4L208.0,46.3L206.1,45.2L203.8,44.8L200.5,45.1L198.2,46.3L198.3,47.4ZM212.8,41.9L228.0,42.6L234.2,41.9L236.9,40.8L236.6,39.7L234.6,39.0L226.9,38.0L215.9,38.3L207.2,39.7L207.1,40.8Z" fill="#fb6248" fill-rule="evenodd"/><path d="M200.4,73.8L215.4,73.8L219.7,72.7L210.2,71.6L196.1,70.9L182.8,70.8L172.9,71.3L167.4,68.8L164.9,70.5L165.3,71.6L167.4,72.1L172.9,71.8L181.7,72.9ZM167.2,66.1L167.4,66.3L169.9,63.9L172.9,62.2L190.2,61.7L202.8,60.6L209.1,59.5L206.0,58.8L199.4,58.7L186.2,59.4L174.0,61.1L167.4,60.5L164.5,61.7L164.0,62.8ZM202.1,47.4L203.9,47.4L204.5,46.3L201.4,46.3ZM216.7,40.8L223.6,41.3L229.5,40.8L228.6,39.7L223.6,39.3L217.1,39.7Z" fill="#ef3b2c" fill-rule="evenodd"/><path d="M184.1,72.7L204.9,73.5L215.2,72.7L197.2,71.2L177.5,71.6ZM167.1,71.6L169.4,71.6L169.4,70.5L167.4,70.0L166.3,70.3ZM165.6,63.9L167.4,65.0L172.8,61.7L168.5,60.7L166.3,61.1L165.1,61.7L164.6,62.8ZM176.0,61.7L195.0,61.0L206.1,59.5L200.5,59.0L189.5,59.4L178.7,60.6Z" fill="#d42027" fill-rule="evenodd"/><path d="M189.4,72.7L201.6,73.0L209.8,72.7L199.0,71.6L183.8,71.6ZM166.3,63.9L167.4,64.3L168.5,63.8L171.0,61.7L168.5,61.1L165.7,61.7L165.2,62.8ZM181.7,60.6L185.1,61.1L192.8,60.9L202.1,59.5L192.7,59.5Z" fill="#a8131c" fill-rule="evenodd"/><path d="M165.9,62.8L167.4,63.6L168.5,63.3L169.8,61.7L166.4,61.7ZM186.7,60.6L189.5,60.6L191.8,60.6L189.5,60.5Z" fill="#8a0e17" fill-rule="evenodd"/><path d="M166.9,62.8L167.4,63.0L168.3,62.8L167.4,62.0Z" fill="#7d0d14" fill-rule="evenodd"/><path d="M110.1,77.1L116.8,77.9L128.9,77.8L139.4,77.1L143.0,76.0L141.1,74.9L135.5,74.1L120.1,73.7L111.3,74.6L109.3,76.0ZM174.5,67.2L184.0,67.9L196.1,68.0L206.0,67.2L206.9,66.1L199.4,64.8L185.1,64.7L176.2,65.2L174.0,66.1ZM145.5,61.7L150.9,62.5L159.7,61.1L167.4,58.1L174.0,57.7L180.2,56.2L189.9,51.8L190.8,50.7L190.5,47.4L192.8,44.1L193.0,43.0L191.7,40.8L196.1,37.9L203.7,35.2L205.6,34.1L206.1,33.0L206.3,26.4L208.9,17.6L209.6,12.1L216.7,5.5L217.1,3.3L216.0,1.1L213.7,-0.7L209.3,-2.2L204.9,-2.8L199.4,-2.5L178.4,1.7L172.9,4.0L167.4,7.7L164.1,11.0L160.8,15.4L157.9,20.9L156.0,26.4L152.3,43.0L152.5,46.3L154.1,51.8L152.4,54.0L145.1,59.5L144.6,60.6ZM8.2,48.5L13.2,49.1L18.7,46.9L31.9,35.5L43.9,27.5L48.9,23.1L51.5,18.7L51.9,15.4L50.3,7.7L48.3,4.4L44.1,2.1L40.8,1.8L37.5,2.4L31.2,5.5L24.2,12.3L22.0,13.8L11.0,13.9L7.7,15.3L5.5,17.1L2.8,20.9L1.1,25.3L0.2,29.7L0.2,35.2L1.1,39.8L3.1,44.1L5.5,46.8Z" fill="#daf2fa" fill-rule="evenodd"/><path d="M116.1,77.1L130.0,77.1L135.8,76.0L132.4,74.9L123.4,74.5L115.4,74.9L112.6,76.0ZM150.5,61.7L159.7,60.7L167.4,57.4L173.4,56.2L178.4,51.5L185.1,47.9L188.3,45.2L189.1,44.1L188.8,43.0L186.8,40.8L192.8,38.8L198.0,35.2L198.4,33.0L197.9,30.8L195.4,25.3L193.9,19.2L192.0,16.5L187.3,14.3L181.7,14.4L176.2,16.6L171.8,20.2L168.5,24.5L162.5,34.1L159.5,41.9L159.4,45.2L162.6,50.7L161.5,51.8L153.1,55.7L148.8,58.4L147.7,59.5L147.4,60.6ZM32.8,16.5L35.2,16.9L37.5,16.6L41.9,14.1L43.5,12.1L44.4,9.9L44.2,7.7L43.6,6.6L41.9,5.4L38.6,5.2L35.2,6.4L33.3,7.7L31.4,9.9L30.4,13.2L31.2,15.4ZM202.5,7.7L207.1,7.5L210.4,6.3L212.5,4.4L212.2,2.2L209.3,0.4L206.0,-0.2L202.7,-0.0L199.1,1.1L196.8,3.3L197.2,5.5L199.4,7.0Z" fill="#a9dde8" fill-rule="evenodd"/><path d="M119.4,76.0L123.4,76.2L127.7,76.0L123.4,75.7ZM150.2,60.6L155.3,61.0L161.9,59.7L170.0,55.1L170.2,54.0L168.5,53.3L165.2,53.2L158.6,54.6L150.9,58.4L149.9,59.5ZM168.9,46.3L171.8,47.0L175.1,47.0L181.1,45.2L182.3,44.1L182.0,43.0L179.4,40.8L179.5,39.7L182.8,38.3L189.5,39.0L192.8,38.0L195.2,36.3L195.9,35.2L195.2,31.9L193.9,30.4L191.7,29.1L188.4,28.8L176.2,32.1L172.9,33.6L169.5,36.3L166.3,43.0L167.2,45.2ZM36.2,12.1L37.5,12.2L39.1,11.0L39.5,9.9L38.6,8.8L36.0,9.9L35.4,11.0ZM203.0,4.4L206.0,4.8L207.4,4.4L208.0,3.3L206.1,2.2L204.6,2.2L202.5,3.3Z" fill="#7cc4d6" fill-rule="evenodd"/><path d="M152.0,59.5L153.1,60.2L155.3,60.4L160.8,59.6L163.4,58.4L165.5,56.2L165.1,55.1L164.1,54.8L159.7,55.3L154.5,57.3ZM186.6,37.5L189.5,38.1L192.4,37.5L194.4,35.2L194.0,33.0L192.8,31.6L190.6,30.8L187.3,31.5L185.6,33.0L184.6,35.2L185.1,36.3Z" fill="#5ba3d3" fill-rule="evenodd"/><path d="M188.9,35.2L190.6,35.9L191.5,35.2L190.6,33.9L189.3,34.1Z" fill="#4292c6" fill-rule="evenodd"/><path d="M45.9,6.3h0M54.1,6.3h0M62.3,6.3h0M209.8,6.3h0M218.0,6.3h0M9.0,14.5h0M33.6,14.5h0M41.8,14.5h0M50.0,14.5h0M58.2,14.5h0M66.4,14.5h0M115.5,14.5h0M123.7,14.5h0M140.1,14.5h0M148.3,14.5h0M181.1,14.5h0M189.3,14.5h0M213.9,14.5h0M4.9,22.7h0M111.4,22.7h0M119.6,22.7h0M127.8,22.7h0M168.8,22.7h0M177.0,22.7h0M185.2,22.7h0M193.4,22.7h0M201.6,22.7h0M209.8,22.7h0M242.6,22.7h0M250.8,22.7h0M259.0,22.7h0M267.2,22.7h0M275.4,22.7h0M283.5,22.7h0M9.0,30.9h0M82.7,30.9h0M90.9,30.9h0M99.1,30.9h0M107.3,30.9h0M115.5,30.9h0M123.7,30.9h0M156.5,30.9h0M164.7,30.9h0M172.9,30.9h0M181.1,30.9h0M189.3,30.9h0M230.3,30.9h0M238.5,30.9h0M246.7,30.9h0M13.1,39.1h0M21.3,39.1h0M78.6,39.1h0M86.8,39.1h0M95.0,39.1h0M103.2,39.1h0M111.4,39.1h0M119.6,39.1h0M127.8,39.1h0M152.4,39.1h0M160.6,39.1h0M168.8,39.1h0M177.0,39.1h0M185.2,39.1h0M193.4,39.1h0M201.6,39.1h0M209.8,39.1h0M218.0,39.1h0M226.2,39.1h0M234.4,39.1h0M242.6,39.1h0M259.0,39.1h0M267.2,39.1h0M9.0,47.3h0M41.8,47.3h0M50.0,47.3h0M66.4,47.3h0M90.9,47.3h0M99.1,47.3h0M107.3,47.3h0M115.5,47.3h0M123.7,47.3h0M131.9,47.3h0M156.5,47.3h0M164.7,47.3h0M172.9,47.3h0M181.1,47.3h0M189.3,47.3h0M197.5,47.3h0M205.7,47.3h0M213.9,47.3h0M222.1,47.3h0M230.3,47.3h0M238.5,47.3h0M263.1,47.3h0M45.9,55.5h0M95.0,55.5h0M111.4,55.5h0M119.6,55.5h0M127.8,55.5h0M136.0,55.5h0M152.4,55.5h0M160.6,55.5h0M168.8,55.5h0M177.0,55.5h0M209.8,55.5h0M218.0,55.5h0M250.8,55.5h0M131.9,63.7h0M140.1,63.7h0M156.5,63.7h0M164.7,63.7h0M172.9,63.7h0M181.1,63.7h0M189.3,63.7h0M197.5,63.7h0M205.7,63.7h0M213.9,63.7h0M222.1,63.7h0M230.3,63.7h0M95.0,71.9h0M103.2,71.9h0M127.8,71.9h0M136.0,71.9h0M144.2,71.9h0M152.4,71.9h0M168.8,71.9h0M177.0,71.9h0M185.2,71.9h0M193.4,71.9h0M201.6,71.9h0M209.8,71.9h0M218.0,71.9h0M226.2,71.9h0M234.4,71.9h0M115.5,80.1h0M123.7,80.1h0M131.9,80.1h0M140.1,80.1h0M148.3,80.1h0M156.5,80.1h0M164.7,80.1h0M172.9,80.1h0M181.1,80.1h0M189.3,80.1h0M197.5,80.1h0M205.7,80.1h0M213.9,80.1h0M222.1,80.1h0M230.3,80.1h0" stroke="#000" stroke-width="3.44" stroke-linecap="round"/>
<use href="#coast"/>
</g>
<rect x="0" y="0" width="286.74" height="88.12" fill="none" stroke="#000" stroke-width="1.1"/>
<path d="M0.00,88.12v4.8M44.06,88.12v4.8M88.12,88.12v4.8M132.18,88.12v4.8M176.24,88.12v4.8M220.30,88.12v4.8M264.36,88.12v4.8M0,88.12h-4.8M0,66.09h-4.8M0,44.06h-4.8M0,22.03h-4.8M0,0.00h-4.8" stroke="#000" stroke-width="1.1" fill="none"/>
<text x="0.00" y="108.52" font-size="13.92" text-anchor="middle" textLength="15.45" lengthAdjust="spacingAndGlyphs">0°</text>
<text x="44.06" y="108.52" font-size="13.92" text-anchor="middle" textLength="32.70" lengthAdjust="spacingAndGlyphs">20°E</text>
<text x="88.12" y="108.52" font-size="13.92" text-anchor="middle" textLength="32.70" lengthAdjust="spacingAndGlyphs">40°E</text>
<text x="132.18" y="108.52" font-size="13.92" text-anchor="middle" textLength="32.70" lengthAdjust="spacingAndGlyphs">60°E</text>
<text x="176.24" y="108.52" font-size="13.92" text-anchor="middle" textLength="32.70" lengthAdjust="spacingAndGlyphs">80°E</text>
<text x="220.30" y="108.52" font-size="13.92" text-anchor="middle" textLength="41.35" lengthAdjust="spacingAndGlyphs">100°E</text>
<text x="264.36" y="108.52" font-size="13.92" text-anchor="middle" textLength="41.35" lengthAdjust="spacingAndGlyphs">120°E</text>
<text x="-9.60" y="93.52" font-size="13.92" text-anchor="end" textLength="34.28" lengthAdjust="spacingAndGlyphs">30°N</text>
<text x="-9.60" y="71.49" font-size="13.92" text-anchor="end" textLength="34.28" lengthAdjust="spacingAndGlyphs">40°N</text>
<text x="-9.60" y="49.46" font-size="13.92" text-anchor="end" textLength="34.28" lengthAdjust="spacingAndGlyphs">50°N</text>
<text x="-9.60" y="27.43" font-size="13.92" text-anchor="end" textLength="34.28" lengthAdjust="spacingAndGlyphs">60°N</text>
<text x="-9.60" y="5.40" font-size="13.92" text-anchor="end" textLength="34.28" lengthAdjust="spacingAndGlyphs">70°N</text>
<text x="0.40" y="-8.40" font-size="16.70" text-anchor="start" textLength="86.17" lengthAdjust="spacingAndGlyphs">(g) VADHR</text>
</g>
<g transform="translate(397.6,497.5)">
<g clip-path="url(#pc)">
<path d="M163.9,82.6L168.5,82.5L171.7,81.5L171.0,80.4L169.0,79.3L161.3,77.1L135.5,71.2L122.2,69.4L111.0,67.2L108.3,66.1L107.1,65.0L102.9,56.2L102.8,55.1L105.7,53.7L122.3,51.6L134.4,49.0L145.4,45.7L155.3,41.5L172.6,31.9L180.0,26.4L182.6,23.1L183.7,19.8L183.2,17.6L180.6,15.2L177.3,13.9L172.9,13.2L160.8,13.2L147.6,15.1L131.1,19.3L116.8,24.6L106.8,29.6L95.3,37.5L90.3,43.0L89.5,45.2L89.4,47.4L90.4,49.6L93.0,52.9L93.0,54.0L87.7,60.6L86.5,63.9L86.1,67.2L87.5,72.7L89.2,75.1L91.4,76.9L101.3,79.7L107.9,80.7L116.8,80.1L123.4,77.6L125.6,77.4L147.6,81.1ZM202.7,82.6L209.3,82.9L211.4,82.6L213.5,81.5L211.4,80.4L207.1,80.0L202.8,80.4L200.7,81.5ZM147.9,68.3L152.0,68.8L156.4,68.2L159.0,67.2L160.6,66.1L161.1,65.0L159.7,62.8L156.4,61.3L153.1,60.8L148.7,61.2L145.3,62.8L144.1,65.0L145.5,67.2ZM8.0,49.6L9.9,49.5L11.0,48.8L12.9,46.3L14.4,41.9L15.1,36.3L14.8,30.8L13.4,25.3L11.0,21.7L8.8,20.8L6.6,21.7L4.4,24.9L3.2,28.6L2.5,34.1L2.8,39.7L3.8,44.1L5.5,47.6Z" fill="#fde0e0" fill-rule="evenodd"/><path d="M151.1,80.4L158.6,80.9L163.6,80.4L163.4,79.3L157.4,77.1L135.5,72.3L119.0,70.2L107.0,67.2L105.1,66.1L100.7,60.6L96.9,58.9L93.6,59.2L91.4,60.3L89.3,62.8L88.3,65.0L87.9,67.2L88.4,70.5L89.5,72.7L91.4,74.6L93.6,75.7L99.1,76.8L104.6,79.0L109.0,79.6L113.5,79.4L117.9,78.3L122.2,76.0L124.5,75.8ZM149.3,67.2L152.0,67.7L155.3,67.4L158.2,66.1L158.7,65.0L158.2,63.9L155.3,62.4L149.8,62.6L147.5,63.9L147.0,65.0L147.5,66.1ZM108.9,45.2L115.7,46.1L124.5,45.4L134.4,43.4L145.4,39.8L155.3,35.3L162.4,30.8L166.6,26.4L167.3,24.2L167.1,23.1L165.2,21.4L163.0,20.6L158.6,20.0L153.1,20.2L141.0,22.2L127.8,26.2L115.6,31.9L108.2,37.5L106.5,39.7L105.8,41.9L106.9,44.1Z" fill="#fcb4a0" fill-rule="evenodd"/><path d="M149.1,79.3L157.4,79.3L156.9,78.2L154.0,77.1L144.8,74.9L132.2,72.7L121.2,72.1L107.5,68.3L103.5,66.6L100.0,62.8L96.9,61.0L94.7,60.8L92.5,61.6L90.3,63.7L89.3,66.1L89.7,70.5L91.4,73.0L93.6,74.3L100.2,75.0L106.8,78.4L111.3,78.7L114.6,78.3L117.3,77.1L121.2,74.4L123.4,74.2L136.6,77.3ZM150.7,66.1L154.2,66.4L155.2,66.1L156.2,65.0L155.2,63.9L152.0,63.5L150.7,63.9L149.7,65.0ZM122.5,38.6L125.6,39.3L128.9,39.2L139.9,36.6L147.5,33.0L150.3,30.8L151.4,28.6L149.8,27.2L145.4,26.8L139.9,27.6L133.3,29.5L127.6,31.9L124.1,34.1L122.0,36.3L121.8,37.5Z" fill="#fb8a6a" fill-rule="evenodd"/><path d="M148.2,78.2L150.0,78.2L150.0,77.1L136.6,74.3L132.2,74.0L131.5,74.9L139.7,77.1ZM106.5,77.1L110.1,77.9L114.6,77.2L117.2,74.9L117.9,73.8L117.7,72.7L113.2,70.5L102.4,67.3L96.9,62.6L93.6,62.5L91.4,64.1L90.4,66.1L90.2,68.3L90.7,70.5L92.5,72.6L94.7,73.4L101.3,74.1Z" fill="#fb6248" fill-rule="evenodd"/><path d="M108.5,74.9L110.1,75.3L112.2,74.9L113.3,73.8L113.2,72.7L111.7,71.6L109.0,70.7L100.2,68.8L95.8,65.1L93.6,65.3L92.5,66.4L92.4,69.4L93.6,70.9L101.3,71.9Z" fill="#ef3b2c" fill-rule="evenodd"/><path d="M105.9,72.7L109.0,73.5L110.7,72.7L107.9,71.4L104.3,71.6ZM93.9,69.4L95.8,70.1L97.6,69.4L96.3,67.2L94.7,66.6L93.6,67.4Z" fill="#d42027" fill-rule="evenodd"/><path d="M227.7,89.2L229.1,88.9L231.0,85.9L232.0,81.5L232.4,73.8L237.7,71.6L239.2,70.5L238.6,69.4L232.0,66.1L232.6,65.0L236.8,62.5L239.3,59.5L239.7,56.2L238.4,51.8L240.0,49.6L249.0,43.0L250.9,40.8L247.8,40.4L236.8,43.0L234.5,43.0L234.9,41.9L246.0,33.0L256.8,19.8L258.3,16.5L258.4,14.3L257.5,12.1L254.4,10.4L250.0,9.9L245.6,10.3L234.6,13.6L226.9,17.1L217.0,22.6L198.2,35.2L189.2,38.6L175.1,41.8L169.8,44.1L166.5,47.4L164.2,52.9L163.8,56.2L165.3,59.5L170.4,63.9L169.1,65.0L160.8,69.2L150.7,71.6L149.8,72.7L152.0,73.8L158.6,75.3L175.1,76.8L191.7,76.6L222.5,74.3L223.6,74.8L224.0,76.0L224.1,81.5L225.0,85.9L226.1,88.1ZM201.6,58.6L201.2,58.4L203.8,57.2L206.0,56.9L206.2,57.3L204.0,58.4ZM207.1,66.3L206.3,66.1L208.8,65.0L217.0,63.4L221.4,63.7L224.2,65.0L223.0,66.1L221.4,66.2ZM207.1,56.2L207.0,56.2L207.2,56.2ZM69.3,29.7L73.8,30.4L78.2,29.9L80.8,28.6L81.6,27.5L81.4,26.4L79.9,25.3L77.1,24.5L70.5,24.7L67.2,26.3L66.6,27.5L67.2,28.6Z" fill="#daf2fa" fill-rule="evenodd"/><path d="M226.5,85.9L228.0,86.9L229.1,86.4L230.2,84.6L231.1,80.4L230.9,73.8L233.3,70.5L232.6,69.4L228.0,67.5L200.7,67.2L202.1,66.1L220.3,60.1L227.7,60.6L231.3,59.5L232.2,58.4L231.7,55.1L232.3,54.0L241.8,46.3L243.5,44.1L241.2,44.0L237.9,44.7L224.7,48.9L205.5,59.5L201.6,60.6L195.0,61.2L190.6,61.2L188.5,60.6L193.9,57.4L200.5,55.7L204.3,54.0L206.2,51.8L206.1,49.6L204.9,48.1L201.6,46.7L189.8,46.3L215.9,43.8L221.4,42.3L231.3,38.0L235.9,35.2L237.5,33.0L237.1,29.7L239.5,24.2L239.0,23.0L236.8,22.1L232.4,22.7L226.9,24.7L208.5,34.1L179.0,43.0L174.1,45.2L169.9,51.8L169.1,54.0L169.2,56.2L170.4,58.4L171.8,59.7L179.2,62.8L167.6,67.2L165.6,69.4L156.1,71.6L153.7,72.7L155.2,73.8L160.8,75.0L177.3,76.2L193.9,75.6L223.6,73.3L224.6,73.8L225.1,74.9L225.1,81.5Z" fill="#a9dde8" fill-rule="evenodd"/><path d="M227.6,84.8L228.0,85.1L229.1,84.4L230.1,81.5L229.7,73.8L230.9,70.5L230.0,69.4L226.9,68.6L197.2,68.3L194.0,67.2L197.2,66.8L209.3,63.2L212.8,61.7L216.1,59.5L225.8,55.7L230.2,53.4L235.6,49.6L238.2,47.4L238.2,46.3L233.5,47.0L224.7,50.1L209.3,58.8L204.3,60.6L198.6,61.7L182.8,63.4L174.0,65.7L170.8,67.2L171.3,68.3L174.0,68.7L188.4,67.9L192.5,68.3L186.2,69.4L164.1,71.0L157.3,72.7L158.3,73.8L164.0,74.9L179.5,75.7L191.7,75.2L223.6,72.2L225.0,72.7L226.0,73.8L225.8,80.8L226.6,83.7ZM178.5,58.4L182.8,58.2L188.4,55.2L195.0,55.1L199.4,54.5L202.5,52.9L203.2,51.8L203.0,50.7L200.5,49.0L196.1,48.5L191.7,49.3L186.2,51.7L177.3,51.7L175.5,52.9L174.6,55.1L175.9,57.3ZM186.0,43.0L187.3,43.7L192.8,43.8L210.4,42.2L223.6,39.0L227.4,37.5L230.5,35.2L230.2,34.1L226.9,33.2L218.1,33.8L199.4,38.0L190.8,40.8Z" fill="#7cc4d6" fill-rule="evenodd"/><path d="M227.3,82.6L228.0,83.3L228.7,82.6L229.5,80.4L229.3,77.1L228.0,74.2L226.5,78.2L226.5,80.4ZM168.9,74.9L179.5,75.3L190.6,74.8L218.1,71.9L223.6,70.7L224.7,70.9L228.0,73.5L229.2,71.6L229.1,70.5L228.0,69.9L223.6,70.3L215.9,69.0L203.8,68.9L168.5,71.1L160.6,72.7L161.5,73.8ZM174.2,67.2L177.3,67.7L184.0,67.4L198.3,65.7L204.9,64.1L210.6,61.7L213.7,59.1L226.9,54.1L232.5,50.7L234.6,48.5L232.0,48.5L223.6,51.5L217.0,55.1L211.5,59.1L209.3,59.9L200.5,61.9L181.7,64.4L175.7,66.1ZM192.5,52.9L195.0,53.6L197.2,53.6L199.5,52.9L200.5,51.8L199.4,50.4L196.1,50.0L193.2,50.7L192.1,51.8ZM192.6,41.9L198.3,42.5L210.4,41.1L220.3,38.7L224.8,36.3L223.7,35.2L221.4,35.1L212.6,35.9L200.7,38.6L194.1,40.8Z" fill="#5ba3d3" fill-rule="evenodd"/><path d="M168.1,73.8L177.3,74.5L186.2,74.3L191.4,73.8L198.3,72.0L202.4,71.6L189.5,71.2L176.0,71.6L167.0,72.7ZM204.7,70.5L206.0,70.7L208.9,70.5L207.1,70.5ZM183.9,66.1L184.0,66.1L184.2,66.1L184.0,66.1ZM185.1,65.0L186.2,65.7L200.8,63.9L193.4,63.9Z" fill="#4292c6" fill-rule="evenodd"/><path d="M172.3,73.8L184.0,74.0L191.8,72.7L185.1,71.8L170.6,72.7Z" fill="#2171b5" fill-rule="evenodd"/><path d="M175.8,72.7L180.6,73.4L186.5,72.7L181.7,72.5Z" fill="#08519c" fill-rule="evenodd"/><path d="M226.2,4.2h0M234.4,4.2h0M242.6,4.2h0M250.8,4.2h0M275.4,4.2h0M283.5,4.2h0M9.0,12.4h0M74.6,12.4h0M82.7,12.4h0M90.9,12.4h0M99.1,12.4h0M107.3,12.4h0M115.5,12.4h0M156.5,12.4h0M164.7,12.4h0M172.9,12.4h0M181.1,12.4h0M213.9,12.4h0M222.1,12.4h0M230.3,12.4h0M238.5,12.4h0M246.7,12.4h0M254.9,12.4h0M4.9,20.6h0M70.5,20.6h0M78.6,20.6h0M86.8,20.6h0M95.0,20.6h0M127.8,20.6h0M136.0,20.6h0M144.2,20.6h0M152.4,20.6h0M160.6,20.6h0M168.8,20.6h0M177.0,20.6h0M185.2,20.6h0M209.8,20.6h0M218.0,20.6h0M226.2,20.6h0M234.4,20.6h0M242.6,20.6h0M0.8,28.8h0M9.0,28.8h0M17.2,28.8h0M66.4,28.8h0M74.6,28.8h0M82.7,28.8h0M90.9,28.8h0M115.5,28.8h0M123.7,28.8h0M131.9,28.8h0M140.1,28.8h0M148.3,28.8h0M156.5,28.8h0M164.7,28.8h0M172.9,28.8h0M181.1,28.8h0M197.5,28.8h0M205.7,28.8h0M213.9,28.8h0M222.1,28.8h0M230.3,28.8h0M238.5,28.8h0M246.7,28.8h0M254.9,28.8h0M263.1,28.8h0M62.3,37.0h0M70.5,37.0h0M78.6,37.0h0M86.8,37.0h0M103.2,37.0h0M111.4,37.0h0M119.6,37.0h0M127.8,37.0h0M136.0,37.0h0M144.2,37.0h0M152.4,37.0h0M160.6,37.0h0M168.8,37.0h0M193.4,37.0h0M201.6,37.0h0M209.8,37.0h0M218.0,37.0h0M226.2,37.0h0M242.6,37.0h0M9.0,45.2h0M17.2,45.2h0M50.0,45.2h0M58.2,45.2h0M74.6,45.2h0M99.1,45.2h0M107.3,45.2h0M115.5,45.2h0M123.7,45.2h0M131.9,45.2h0M140.1,45.2h0M148.3,45.2h0M156.5,45.2h0M189.3,45.2h0M197.5,45.2h0M213.9,45.2h0M230.3,45.2h0M238.5,45.2h0M4.9,53.4h0M13.1,53.4h0M54.1,53.4h0M95.0,53.4h0M119.6,53.4h0M127.8,53.4h0M144.2,53.4h0M152.4,53.4h0M160.6,53.4h0M168.8,53.4h0M185.2,53.4h0M193.4,53.4h0M201.6,53.4h0M209.8,53.4h0M234.4,53.4h0M66.4,61.6h0M99.1,61.6h0M148.3,61.6h0M156.5,61.6h0M205.7,61.6h0M213.9,61.6h0M222.1,61.6h0M95.0,69.8h0M103.2,69.8h0M111.4,69.8h0M152.4,69.8h0M168.8,69.8h0M177.0,69.8h0M185.2,69.8h0M193.4,69.8h0M201.6,69.8h0M209.8,69.8h0M218.0,69.8h0M107.3,78.0h0M115.5,78.0h0M131.9,78.0h0M140.1,78.0h0M148.3,78.0h0M156.5,78.0h0M164.7,78.0h0M172.9,78.0h0M181.1,78.0h0M205.7,78.0h0M213.9,78.0h0M222.1,78.0h0M230.3,78.0h0M86.8,86.2h0M95.0,86.2h0M103.2,86.2h0M111.4,86.2h0M119.6,86.2h0M127.8,86.2h0M136.0,86.2h0M152.4,86.2h0M177.0,86.2h0M209.8,86.2h0M226.2,86.2h0M234.4,86.2h0M242.6,86.2h0M250.8,86.2h0" stroke="#000" stroke-width="3.44" stroke-linecap="round"/>
<use href="#coast"/>
</g>
<rect x="0" y="0" width="286.74" height="88.12" fill="none" stroke="#000" stroke-width="1.1"/>
<path d="M0.00,88.12v4.8M44.06,88.12v4.8M88.12,88.12v4.8M132.18,88.12v4.8M176.24,88.12v4.8M220.30,88.12v4.8M264.36,88.12v4.8M0,88.12h-4.8M0,66.09h-4.8M0,44.06h-4.8M0,22.03h-4.8M0,0.00h-4.8" stroke="#000" stroke-width="1.1" fill="none"/>
<text x="0.00" y="108.52" font-size="13.92" text-anchor="middle" textLength="15.45" lengthAdjust="spacingAndGlyphs">0°</text>
<text x="44.06" y="108.52" font-size="13.92" text-anchor="middle" textLength="32.70" lengthAdjust="spacingAndGlyphs">20°E</text>
<text x="88.12" y="108.52" font-size="13.92" text-anchor="middle" textLength="32.70" lengthAdjust="spacingAndGlyphs">40°E</text>
<text x="132.18" y="108.52" font-size="13.92" text-anchor="middle" textLength="32.70" lengthAdjust="spacingAndGlyphs">60°E</text>
<text x="176.24" y="108.52" font-size="13.92" text-anchor="middle" textLength="32.70" lengthAdjust="spacingAndGlyphs">80°E</text>
<text x="220.30" y="108.52" font-size="13.92" text-anchor="middle" textLength="41.35" lengthAdjust="spacingAndGlyphs">100°E</text>
<text x="264.36" y="108.52" font-size="13.92" text-anchor="middle" textLength="41.35" lengthAdjust="spacingAndGlyphs">120°E</text>
<text x="-9.60" y="93.52" font-size="13.92" text-anchor="end" textLength="34.28" lengthAdjust="spacingAndGlyphs">30°N</text>
<text x="-9.60" y="71.49" font-size="13.92" text-anchor="end" textLength="34.28" lengthAdjust="spacingAndGlyphs">40°N</text>
<text x="-9.60" y="49.46" font-size="13.92" text-anchor="end" textLength="34.28" lengthAdjust="spacingAndGlyphs">50°N</text>
<text x="-9.60" y="27.43" font-size="13.92" text-anchor="end" textLength="34.28" lengthAdjust="spacingAndGlyphs">60°N</text>
<text x="-9.60" y="5.40" font-size="13.92" text-anchor="end" textLength="34.28" lengthAdjust="spacingAndGlyphs">70°N</text>
<text x="0.40" y="-8.40" font-size="16.70" text-anchor="start" textLength="64.76" lengthAdjust="spacingAndGlyphs">(h) DHR</text>
</g>
<path d="M134.5,629.4L110.7,633.9L134.5,638.4Z" fill="#0b2a5e"/>
<path d="M563.6,629.4L587.4,633.9L563.6,638.4Z" fill="#6a030f"/>
<rect x="134.50" y="629.4" width="18.48" height="9.0" fill="#081a40"/>
<rect x="152.38" y="629.4" width="36.36" height="9.0" fill="#08306b"/>
<rect x="188.14" y="629.4" width="18.48" height="9.0" fill="#08519c"/>
<rect x="206.02" y="629.4" width="18.48" height="9.0" fill="#2171b5"/>
<rect x="223.90" y="629.4" width="18.48" height="9.0" fill="#4292c6"/>
<rect x="241.78" y="629.4" width="36.36" height="9.0" fill="#5ba3d3"/>
<rect x="277.53" y="629.4" width="18.48" height="9.0" fill="#7cc4d6"/>
<rect x="295.41" y="629.4" width="18.48" height="9.0" fill="#a9dde8"/>
<rect x="313.29" y="629.4" width="18.48" height="9.0" fill="#daf2fa"/>
<rect x="331.17" y="629.4" width="36.36" height="9.0" fill="#ffffff"/>
<rect x="366.93" y="629.4" width="18.48" height="9.0" fill="#fde0e0"/>
<rect x="384.81" y="629.4" width="18.48" height="9.0" fill="#fcb4a0"/>
<rect x="402.69" y="629.4" width="18.48" height="9.0" fill="#fb8a6a"/>
<rect x="420.57" y="629.4" width="36.36" height="9.0" fill="#fb6248"/>
<rect x="456.32" y="629.4" width="18.48" height="9.0" fill="#ef3b2c"/>
<rect x="474.20" y="629.4" width="18.48" height="9.0" fill="#d42027"/>
<rect x="492.08" y="629.4" width="18.48" height="9.0" fill="#a8131c"/>
<rect x="509.96" y="629.4" width="18.48" height="9.0" fill="#8a0e17"/>
<rect x="527.84" y="629.4" width="18.48" height="9.0" fill="#7d0d14"/>
<rect x="545.72" y="629.4" width="17.88" height="9.0" fill="#67000d"/>
<path d="M134.5,629.4L110.7,633.9L134.5,638.4L563.6,638.4L587.4,633.9L563.6,629.4Z" fill="none" stroke="#000" stroke-width="1.1"/>
<text x="134.50" y="658.40" font-size="13.92" text-anchor="middle" textLength="41.68" lengthAdjust="spacingAndGlyphs">−3.00</text>
<text x="188.14" y="658.40" font-size="13.92" text-anchor="middle" textLength="41.68" lengthAdjust="spacingAndGlyphs">−2.25</text>
<text x="241.78" y="658.40" font-size="13.92" text-anchor="middle" textLength="41.68" lengthAdjust="spacingAndGlyphs">−1.50</text>
<text x="295.41" y="658.40" font-size="13.92" text-anchor="middle" textLength="41.68" lengthAdjust="spacingAndGlyphs">−0.75</text>
<text x="349.05" y="658.40" font-size="13.92" text-anchor="middle" textLength="30.28" lengthAdjust="spacingAndGlyphs">0.00</text>
<text x="402.69" y="658.40" font-size="13.92" text-anchor="middle" textLength="30.28" lengthAdjust="spacingAndGlyphs">0.75</text>
<text x="456.33" y="658.40" font-size="13.92" text-anchor="middle" textLength="30.28" lengthAdjust="spacingAndGlyphs">1.50</text>
<text x="509.96" y="658.40" font-size="13.92" text-anchor="middle" textLength="30.28" lengthAdjust="spacingAndGlyphs">2.25</text>
<text x="563.60" y="658.40" font-size="13.92" text-anchor="middle" textLength="30.28" lengthAdjust="spacingAndGlyphs">3.00</text>
<path d="M134.50,638.4v4.8M188.14,638.4v4.8M241.78,638.4v4.8M295.41,638.4v4.8M349.05,638.4v4.8M402.69,638.4v4.8M456.33,638.4v4.8M509.96,638.4v4.8M563.60,638.4v4.8" stroke="#000" stroke-width="1.1"/>
<text x="349.05" y="672.3" font-size="13.92" text-anchor="middle" textLength="65.2" lengthAdjust="spacingAndGlyphs">[K•day<tspan font-size="9.5" dy="-4.6">−1</tspan><tspan dy="4.6">]</tspan></text>
</svg></body></html>
